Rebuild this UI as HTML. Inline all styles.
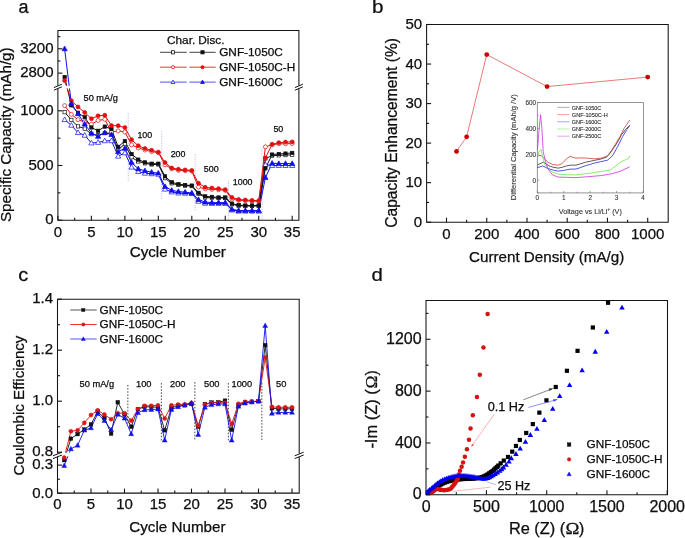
<!DOCTYPE html>
<html><head><meta charset="utf-8"><style>
html,body{margin:0;padding:0;background:#fff;width:685px;height:538px;overflow:hidden}
svg{display:block;font-family:"Liberation Sans",sans-serif;will-change:transform;filter:blur(0.3px)}
text{stroke:currentColor;stroke-width:0.25px}
text.s{stroke:#444;stroke-width:0.12px}
</style></head><body>
<svg width="685" height="538" viewBox="0 0 685 538" font-family="Liberation Sans, sans-serif">
<defs><clipPath id="clipA"><rect x="57.9" y="30.4" width="241" height="189.8"/></clipPath><clipPath id="clipC"><rect x="57.5" y="299" width="241.7" height="194.3"/></clipPath><clipPath id="clipD"><rect x="426.2" y="300.3" width="241.1" height="194"/></clipPath></defs>
<rect width="685" height="538" fill="#fff"/>
<g clip-path="url(#clipA)">
<line x1="128.21" y1="113" x2="128.21" y2="180.7" stroke="#8a8ad0" stroke-width="0.6" stroke-dasharray="1,1.3"/>
<line x1="161.67" y1="131.2" x2="161.67" y2="200" stroke="#8a8ad0" stroke-width="0.6" stroke-dasharray="1,1.3"/>
<line x1="195.14" y1="154.2" x2="195.14" y2="211" stroke="#8a8ad0" stroke-width="0.6" stroke-dasharray="1,1.3"/>
<line x1="228.6" y1="180.7" x2="228.6" y2="220" stroke="#8a8ad0" stroke-width="0.6" stroke-dasharray="1,1.3"/>
<line x1="262.07" y1="148.8" x2="262.07" y2="220" stroke="#8a8ad0" stroke-width="0.6" stroke-dasharray="1,1.3"/>
<polyline points="64.62,112.2 71.32,119.9 78.01,126.39 84.7,128.59 91.39,134.2 98.09,135.3 104.78,133.1 111.47,133.1 118.17,149.6 124.86,144.1 131.55,157.3 138.25,161.48 144.94,163.35 151.63,164.45 158.32,164.45 165.02,178.2 171.71,183.37 178.4,185.02 185.1,185.68 191.79,186.12 198.48,193.82 205.18,197.45 211.87,197.78 218.56,198 225.25,198 231.95,204.38 238.64,205.7 245.33,206.03 252.03,206.03 258.72,206.03 265.41,158.4 272.11,155.65 278.8,155.32 285.49,155.1 292.19,154.88" fill="none" stroke="#111" stroke-width="1.0" stroke-linejoin="round" />
<polyline points="64.62,105.6 71.32,114.4 78.01,119.68 84.7,122.1 91.39,124.3 98.09,120.45 104.78,119.35 111.47,132 118.17,130.9 124.86,132 131.55,144.76 138.25,147.95 144.94,150.04 151.63,151.58 158.32,152.68 165.02,164.78 171.71,168.85 178.4,170.28 185.1,170.72 191.79,171.05 198.48,187 205.18,188.98 211.87,189.42 218.56,189.75 225.25,190.3 231.95,199.1 238.64,200.42 245.33,200.75 252.03,201.08 258.72,201.3 265.41,146.85 272.11,144.76 278.8,143.77 285.49,143.77 292.19,143.55" fill="none" stroke="#e01010" stroke-width="1.0" stroke-linejoin="round" />
<polyline points="64.62,119.68 71.32,125.29 78.01,132.66 84.7,135.3 91.39,143 98.09,142.45 104.78,140.8 111.47,140.8 118.17,156.2 124.86,152.9 131.55,167.2 138.25,171.6 144.94,173.25 151.63,173.8 158.32,174.35 165.02,189.2 171.71,191.95 178.4,193.05 185.1,193.27 191.79,193.6 198.48,201.3 205.18,203.28 211.87,203.5 218.56,203.5 225.25,203.5 231.95,210.1 238.64,211.2 245.33,211.2 252.03,211.2 258.72,211.2 265.41,164.78 272.11,165.55 278.8,165.55 285.49,165.55 292.19,165.55" fill="none" stroke="#1010ee" stroke-width="1.0" stroke-linejoin="round" />
<polyline points="64.62,77.01 71.32,105.38 78.01,112.75 84.7,117.26 91.39,127.49 98.09,130.79 104.78,126.61 111.47,129.03 118.17,146.85 124.86,141.02 131.55,154 138.25,159.61 144.94,162.36 151.63,163.68 158.32,163.68 165.02,176.33 171.71,182.27 178.4,184.14 185.1,185.02 191.79,185.57 198.48,192.83 205.18,196.35 211.87,196.9 218.56,197.45 225.25,197.45 231.95,203.61 238.64,205.04 245.33,205.48 252.03,205.48 258.72,205.48 265.41,168.3 272.11,154.55 278.8,154 285.49,153.56 292.19,152.9" fill="none" stroke="#111" stroke-width="1.0" stroke-linejoin="round" />
<polyline points="64.62,80.6 71.32,100.65 78.01,106.92 84.7,112.42 91.39,118.69 98.09,115.83 104.78,115.28 111.47,125.62 118.17,125.73 124.86,127.6 131.55,139.7 138.25,145.75 144.94,148.5 151.63,150.26 158.32,152.13 165.02,162.58 171.71,167.97 178.4,169.29 185.1,169.95 191.79,170.5 198.48,183.26 205.18,187.33 211.87,188.1 218.56,188.65 225.25,189.64 231.95,197.45 238.64,199.54 245.33,199.98 252.03,200.42 258.72,200.64 265.41,157.96 272.11,144.32 278.8,142.67 285.49,142.12 292.19,141.9" fill="none" stroke="#e01010" stroke-width="1.0" stroke-linejoin="round" />
<polyline points="64.62,48.8 71.32,103.4 78.01,113.85 84.7,124.08 91.39,133.1 98.09,136.4 104.78,132.66 111.47,134.64 118.17,151.69 124.86,148.39 131.55,162.36 138.25,168.85 144.94,170.83 151.63,172.26 158.32,173.14 165.02,186.56 171.71,190.3 178.4,191.62 185.1,192.17 191.79,193.05 198.48,199.54 205.18,202.07 211.87,202.62 218.56,202.62 225.25,202.62 231.95,209.22 238.64,210.54 245.33,210.54 252.03,210.54 258.72,210.54 265.41,177.54 272.11,163.24 278.8,163.57 285.49,163.57 292.19,163.57" fill="none" stroke="#1010ee" stroke-width="1.0" stroke-linejoin="round" />
<rect x="62.97" y="110.55" width="3.3" height="3.3" fill="#fff" stroke="#111" stroke-width="0.7"/>
<rect x="69.67" y="118.25" width="3.3" height="3.3" fill="#fff" stroke="#111" stroke-width="0.7"/>
<rect x="76.36" y="124.74" width="3.3" height="3.3" fill="#fff" stroke="#111" stroke-width="0.7"/>
<rect x="83.05" y="126.94" width="3.3" height="3.3" fill="#fff" stroke="#111" stroke-width="0.7"/>
<rect x="89.74" y="132.55" width="3.3" height="3.3" fill="#fff" stroke="#111" stroke-width="0.7"/>
<rect x="96.44" y="133.65" width="3.3" height="3.3" fill="#fff" stroke="#111" stroke-width="0.7"/>
<rect x="103.13" y="131.45" width="3.3" height="3.3" fill="#fff" stroke="#111" stroke-width="0.7"/>
<rect x="109.82" y="131.45" width="3.3" height="3.3" fill="#fff" stroke="#111" stroke-width="0.7"/>
<rect x="116.52" y="147.95" width="3.3" height="3.3" fill="#fff" stroke="#111" stroke-width="0.7"/>
<rect x="123.21" y="142.45" width="3.3" height="3.3" fill="#fff" stroke="#111" stroke-width="0.7"/>
<rect x="129.9" y="155.65" width="3.3" height="3.3" fill="#fff" stroke="#111" stroke-width="0.7"/>
<rect x="136.6" y="159.83" width="3.3" height="3.3" fill="#fff" stroke="#111" stroke-width="0.7"/>
<rect x="143.29" y="161.7" width="3.3" height="3.3" fill="#fff" stroke="#111" stroke-width="0.7"/>
<rect x="149.98" y="162.8" width="3.3" height="3.3" fill="#fff" stroke="#111" stroke-width="0.7"/>
<rect x="156.67" y="162.8" width="3.3" height="3.3" fill="#fff" stroke="#111" stroke-width="0.7"/>
<rect x="163.37" y="176.55" width="3.3" height="3.3" fill="#fff" stroke="#111" stroke-width="0.7"/>
<rect x="170.06" y="181.72" width="3.3" height="3.3" fill="#fff" stroke="#111" stroke-width="0.7"/>
<rect x="176.75" y="183.37" width="3.3" height="3.3" fill="#fff" stroke="#111" stroke-width="0.7"/>
<rect x="183.45" y="184.03" width="3.3" height="3.3" fill="#fff" stroke="#111" stroke-width="0.7"/>
<rect x="190.14" y="184.47" width="3.3" height="3.3" fill="#fff" stroke="#111" stroke-width="0.7"/>
<rect x="196.83" y="192.17" width="3.3" height="3.3" fill="#fff" stroke="#111" stroke-width="0.7"/>
<rect x="203.53" y="195.8" width="3.3" height="3.3" fill="#fff" stroke="#111" stroke-width="0.7"/>
<rect x="210.22" y="196.13" width="3.3" height="3.3" fill="#fff" stroke="#111" stroke-width="0.7"/>
<rect x="216.91" y="196.35" width="3.3" height="3.3" fill="#fff" stroke="#111" stroke-width="0.7"/>
<rect x="223.6" y="196.35" width="3.3" height="3.3" fill="#fff" stroke="#111" stroke-width="0.7"/>
<rect x="230.3" y="202.73" width="3.3" height="3.3" fill="#fff" stroke="#111" stroke-width="0.7"/>
<rect x="236.99" y="204.05" width="3.3" height="3.3" fill="#fff" stroke="#111" stroke-width="0.7"/>
<rect x="243.68" y="204.38" width="3.3" height="3.3" fill="#fff" stroke="#111" stroke-width="0.7"/>
<rect x="250.38" y="204.38" width="3.3" height="3.3" fill="#fff" stroke="#111" stroke-width="0.7"/>
<rect x="257.07" y="204.38" width="3.3" height="3.3" fill="#fff" stroke="#111" stroke-width="0.7"/>
<rect x="263.76" y="156.75" width="3.3" height="3.3" fill="#fff" stroke="#111" stroke-width="0.7"/>
<rect x="270.46" y="154" width="3.3" height="3.3" fill="#fff" stroke="#111" stroke-width="0.7"/>
<rect x="277.15" y="153.67" width="3.3" height="3.3" fill="#fff" stroke="#111" stroke-width="0.7"/>
<rect x="283.84" y="153.45" width="3.3" height="3.3" fill="#fff" stroke="#111" stroke-width="0.7"/>
<rect x="290.54" y="153.23" width="3.3" height="3.3" fill="#fff" stroke="#111" stroke-width="0.7"/>
<circle cx="64.62" cy="105.6" r="2" fill="#fff" stroke="#e01010" stroke-width="0.7"/>
<circle cx="71.32" cy="114.4" r="2" fill="#fff" stroke="#e01010" stroke-width="0.7"/>
<circle cx="78.01" cy="119.68" r="2" fill="#fff" stroke="#e01010" stroke-width="0.7"/>
<circle cx="84.7" cy="122.1" r="2" fill="#fff" stroke="#e01010" stroke-width="0.7"/>
<circle cx="91.39" cy="124.3" r="2" fill="#fff" stroke="#e01010" stroke-width="0.7"/>
<circle cx="98.09" cy="120.45" r="2" fill="#fff" stroke="#e01010" stroke-width="0.7"/>
<circle cx="104.78" cy="119.35" r="2" fill="#fff" stroke="#e01010" stroke-width="0.7"/>
<circle cx="111.47" cy="132" r="2" fill="#fff" stroke="#e01010" stroke-width="0.7"/>
<circle cx="118.17" cy="130.9" r="2" fill="#fff" stroke="#e01010" stroke-width="0.7"/>
<circle cx="124.86" cy="132" r="2" fill="#fff" stroke="#e01010" stroke-width="0.7"/>
<circle cx="131.55" cy="144.76" r="2" fill="#fff" stroke="#e01010" stroke-width="0.7"/>
<circle cx="138.25" cy="147.95" r="2" fill="#fff" stroke="#e01010" stroke-width="0.7"/>
<circle cx="144.94" cy="150.04" r="2" fill="#fff" stroke="#e01010" stroke-width="0.7"/>
<circle cx="151.63" cy="151.58" r="2" fill="#fff" stroke="#e01010" stroke-width="0.7"/>
<circle cx="158.32" cy="152.68" r="2" fill="#fff" stroke="#e01010" stroke-width="0.7"/>
<circle cx="165.02" cy="164.78" r="2" fill="#fff" stroke="#e01010" stroke-width="0.7"/>
<circle cx="171.71" cy="168.85" r="2" fill="#fff" stroke="#e01010" stroke-width="0.7"/>
<circle cx="178.4" cy="170.28" r="2" fill="#fff" stroke="#e01010" stroke-width="0.7"/>
<circle cx="185.1" cy="170.72" r="2" fill="#fff" stroke="#e01010" stroke-width="0.7"/>
<circle cx="191.79" cy="171.05" r="2" fill="#fff" stroke="#e01010" stroke-width="0.7"/>
<circle cx="198.48" cy="187" r="2" fill="#fff" stroke="#e01010" stroke-width="0.7"/>
<circle cx="205.18" cy="188.98" r="2" fill="#fff" stroke="#e01010" stroke-width="0.7"/>
<circle cx="211.87" cy="189.42" r="2" fill="#fff" stroke="#e01010" stroke-width="0.7"/>
<circle cx="218.56" cy="189.75" r="2" fill="#fff" stroke="#e01010" stroke-width="0.7"/>
<circle cx="225.25" cy="190.3" r="2" fill="#fff" stroke="#e01010" stroke-width="0.7"/>
<circle cx="231.95" cy="199.1" r="2" fill="#fff" stroke="#e01010" stroke-width="0.7"/>
<circle cx="238.64" cy="200.42" r="2" fill="#fff" stroke="#e01010" stroke-width="0.7"/>
<circle cx="245.33" cy="200.75" r="2" fill="#fff" stroke="#e01010" stroke-width="0.7"/>
<circle cx="252.03" cy="201.08" r="2" fill="#fff" stroke="#e01010" stroke-width="0.7"/>
<circle cx="258.72" cy="201.3" r="2" fill="#fff" stroke="#e01010" stroke-width="0.7"/>
<circle cx="265.41" cy="146.85" r="2" fill="#fff" stroke="#e01010" stroke-width="0.7"/>
<circle cx="272.11" cy="144.76" r="2" fill="#fff" stroke="#e01010" stroke-width="0.7"/>
<circle cx="278.8" cy="143.77" r="2" fill="#fff" stroke="#e01010" stroke-width="0.7"/>
<circle cx="285.49" cy="143.77" r="2" fill="#fff" stroke="#e01010" stroke-width="0.7"/>
<circle cx="292.19" cy="143.55" r="2" fill="#fff" stroke="#e01010" stroke-width="0.7"/>
<polygon points="64.62,116.93 67.24,121.6 62.01,121.6" fill="#fff" stroke="#1010ee" stroke-width="0.7"/>
<polygon points="71.32,122.54 73.93,127.22 68.7,127.22" fill="#fff" stroke="#1010ee" stroke-width="0.7"/>
<polygon points="78.01,129.91 80.62,134.59 75.4,134.59" fill="#fff" stroke="#1010ee" stroke-width="0.7"/>
<polygon points="84.7,132.55 87.31,137.23 82.09,137.23" fill="#fff" stroke="#1010ee" stroke-width="0.7"/>
<polygon points="91.39,140.25 94.01,144.93 88.78,144.93" fill="#fff" stroke="#1010ee" stroke-width="0.7"/>
<polygon points="98.09,139.7 100.7,144.38 95.48,144.38" fill="#fff" stroke="#1010ee" stroke-width="0.7"/>
<polygon points="104.78,138.05 107.39,142.73 102.17,142.73" fill="#fff" stroke="#1010ee" stroke-width="0.7"/>
<polygon points="111.47,138.05 114.09,142.73 108.86,142.73" fill="#fff" stroke="#1010ee" stroke-width="0.7"/>
<polygon points="118.17,153.45 120.78,158.12 115.55,158.12" fill="#fff" stroke="#1010ee" stroke-width="0.7"/>
<polygon points="124.86,150.15 127.47,154.83 122.25,154.83" fill="#fff" stroke="#1010ee" stroke-width="0.7"/>
<polygon points="131.55,164.45 134.17,169.12 128.94,169.12" fill="#fff" stroke="#1010ee" stroke-width="0.7"/>
<polygon points="138.25,168.85 140.86,173.53 135.63,173.53" fill="#fff" stroke="#1010ee" stroke-width="0.7"/>
<polygon points="144.94,170.5 147.55,175.18 142.33,175.18" fill="#fff" stroke="#1010ee" stroke-width="0.7"/>
<polygon points="151.63,171.05 154.24,175.73 149.02,175.73" fill="#fff" stroke="#1010ee" stroke-width="0.7"/>
<polygon points="158.32,171.6 160.94,176.28 155.71,176.28" fill="#fff" stroke="#1010ee" stroke-width="0.7"/>
<polygon points="165.02,186.45 167.63,191.12 162.41,191.12" fill="#fff" stroke="#1010ee" stroke-width="0.7"/>
<polygon points="171.71,189.2 174.32,193.88 169.1,193.88" fill="#fff" stroke="#1010ee" stroke-width="0.7"/>
<polygon points="178.4,190.3 181.02,194.98 175.79,194.98" fill="#fff" stroke="#1010ee" stroke-width="0.7"/>
<polygon points="185.1,190.52 187.71,195.2 182.48,195.2" fill="#fff" stroke="#1010ee" stroke-width="0.7"/>
<polygon points="191.79,190.85 194.4,195.53 189.18,195.53" fill="#fff" stroke="#1010ee" stroke-width="0.7"/>
<polygon points="198.48,198.55 201.1,203.23 195.87,203.23" fill="#fff" stroke="#1010ee" stroke-width="0.7"/>
<polygon points="205.18,200.53 207.79,205.21 202.56,205.21" fill="#fff" stroke="#1010ee" stroke-width="0.7"/>
<polygon points="211.87,200.75 214.48,205.43 209.26,205.43" fill="#fff" stroke="#1010ee" stroke-width="0.7"/>
<polygon points="218.56,200.75 221.17,205.43 215.95,205.43" fill="#fff" stroke="#1010ee" stroke-width="0.7"/>
<polygon points="225.25,200.75 227.87,205.43 222.64,205.43" fill="#fff" stroke="#1010ee" stroke-width="0.7"/>
<polygon points="231.95,207.35 234.56,212.03 229.34,212.03" fill="#fff" stroke="#1010ee" stroke-width="0.7"/>
<polygon points="238.64,208.45 241.25,213.12 236.03,213.12" fill="#fff" stroke="#1010ee" stroke-width="0.7"/>
<polygon points="245.33,208.45 247.95,213.12 242.72,213.12" fill="#fff" stroke="#1010ee" stroke-width="0.7"/>
<polygon points="252.03,208.45 254.64,213.12 249.41,213.12" fill="#fff" stroke="#1010ee" stroke-width="0.7"/>
<polygon points="258.72,208.45 261.33,213.12 256.11,213.12" fill="#fff" stroke="#1010ee" stroke-width="0.7"/>
<polygon points="265.41,162.03 268.03,166.71 262.8,166.71" fill="#fff" stroke="#1010ee" stroke-width="0.7"/>
<polygon points="272.11,162.8 274.72,167.48 269.49,167.48" fill="#fff" stroke="#1010ee" stroke-width="0.7"/>
<polygon points="278.8,162.8 281.41,167.48 276.19,167.48" fill="#fff" stroke="#1010ee" stroke-width="0.7"/>
<polygon points="285.49,162.8 288.1,167.48 282.88,167.48" fill="#fff" stroke="#1010ee" stroke-width="0.7"/>
<polygon points="292.19,162.8 294.8,167.48 289.57,167.48" fill="#fff" stroke="#1010ee" stroke-width="0.7"/>
<rect x="62.97" y="75.36" width="3.3" height="3.3" fill="#111" stroke="#111" stroke-width="0.7"/>
<rect x="69.67" y="103.73" width="3.3" height="3.3" fill="#111" stroke="#111" stroke-width="0.7"/>
<rect x="76.36" y="111.1" width="3.3" height="3.3" fill="#111" stroke="#111" stroke-width="0.7"/>
<rect x="83.05" y="115.61" width="3.3" height="3.3" fill="#111" stroke="#111" stroke-width="0.7"/>
<rect x="89.74" y="125.84" width="3.3" height="3.3" fill="#111" stroke="#111" stroke-width="0.7"/>
<rect x="96.44" y="129.14" width="3.3" height="3.3" fill="#111" stroke="#111" stroke-width="0.7"/>
<rect x="103.13" y="124.96" width="3.3" height="3.3" fill="#111" stroke="#111" stroke-width="0.7"/>
<rect x="109.82" y="127.38" width="3.3" height="3.3" fill="#111" stroke="#111" stroke-width="0.7"/>
<rect x="116.52" y="145.2" width="3.3" height="3.3" fill="#111" stroke="#111" stroke-width="0.7"/>
<rect x="123.21" y="139.37" width="3.3" height="3.3" fill="#111" stroke="#111" stroke-width="0.7"/>
<rect x="129.9" y="152.35" width="3.3" height="3.3" fill="#111" stroke="#111" stroke-width="0.7"/>
<rect x="136.6" y="157.96" width="3.3" height="3.3" fill="#111" stroke="#111" stroke-width="0.7"/>
<rect x="143.29" y="160.71" width="3.3" height="3.3" fill="#111" stroke="#111" stroke-width="0.7"/>
<rect x="149.98" y="162.03" width="3.3" height="3.3" fill="#111" stroke="#111" stroke-width="0.7"/>
<rect x="156.67" y="162.03" width="3.3" height="3.3" fill="#111" stroke="#111" stroke-width="0.7"/>
<rect x="163.37" y="174.68" width="3.3" height="3.3" fill="#111" stroke="#111" stroke-width="0.7"/>
<rect x="170.06" y="180.62" width="3.3" height="3.3" fill="#111" stroke="#111" stroke-width="0.7"/>
<rect x="176.75" y="182.49" width="3.3" height="3.3" fill="#111" stroke="#111" stroke-width="0.7"/>
<rect x="183.45" y="183.37" width="3.3" height="3.3" fill="#111" stroke="#111" stroke-width="0.7"/>
<rect x="190.14" y="183.92" width="3.3" height="3.3" fill="#111" stroke="#111" stroke-width="0.7"/>
<rect x="196.83" y="191.18" width="3.3" height="3.3" fill="#111" stroke="#111" stroke-width="0.7"/>
<rect x="203.53" y="194.7" width="3.3" height="3.3" fill="#111" stroke="#111" stroke-width="0.7"/>
<rect x="210.22" y="195.25" width="3.3" height="3.3" fill="#111" stroke="#111" stroke-width="0.7"/>
<rect x="216.91" y="195.8" width="3.3" height="3.3" fill="#111" stroke="#111" stroke-width="0.7"/>
<rect x="223.6" y="195.8" width="3.3" height="3.3" fill="#111" stroke="#111" stroke-width="0.7"/>
<rect x="230.3" y="201.96" width="3.3" height="3.3" fill="#111" stroke="#111" stroke-width="0.7"/>
<rect x="236.99" y="203.39" width="3.3" height="3.3" fill="#111" stroke="#111" stroke-width="0.7"/>
<rect x="243.68" y="203.83" width="3.3" height="3.3" fill="#111" stroke="#111" stroke-width="0.7"/>
<rect x="250.38" y="203.83" width="3.3" height="3.3" fill="#111" stroke="#111" stroke-width="0.7"/>
<rect x="257.07" y="203.83" width="3.3" height="3.3" fill="#111" stroke="#111" stroke-width="0.7"/>
<rect x="263.76" y="166.65" width="3.3" height="3.3" fill="#111" stroke="#111" stroke-width="0.7"/>
<rect x="270.46" y="152.9" width="3.3" height="3.3" fill="#111" stroke="#111" stroke-width="0.7"/>
<rect x="277.15" y="152.35" width="3.3" height="3.3" fill="#111" stroke="#111" stroke-width="0.7"/>
<rect x="283.84" y="151.91" width="3.3" height="3.3" fill="#111" stroke="#111" stroke-width="0.7"/>
<rect x="290.54" y="151.25" width="3.3" height="3.3" fill="#111" stroke="#111" stroke-width="0.7"/>
<circle cx="64.62" cy="80.6" r="2" fill="#e01010" stroke="#e01010" stroke-width="0.7"/>
<circle cx="71.32" cy="100.65" r="2" fill="#e01010" stroke="#e01010" stroke-width="0.7"/>
<circle cx="78.01" cy="106.92" r="2" fill="#e01010" stroke="#e01010" stroke-width="0.7"/>
<circle cx="84.7" cy="112.42" r="2" fill="#e01010" stroke="#e01010" stroke-width="0.7"/>
<circle cx="91.39" cy="118.69" r="2" fill="#e01010" stroke="#e01010" stroke-width="0.7"/>
<circle cx="98.09" cy="115.83" r="2" fill="#e01010" stroke="#e01010" stroke-width="0.7"/>
<circle cx="104.78" cy="115.28" r="2" fill="#e01010" stroke="#e01010" stroke-width="0.7"/>
<circle cx="111.47" cy="125.62" r="2" fill="#e01010" stroke="#e01010" stroke-width="0.7"/>
<circle cx="118.17" cy="125.73" r="2" fill="#e01010" stroke="#e01010" stroke-width="0.7"/>
<circle cx="124.86" cy="127.6" r="2" fill="#e01010" stroke="#e01010" stroke-width="0.7"/>
<circle cx="131.55" cy="139.7" r="2" fill="#e01010" stroke="#e01010" stroke-width="0.7"/>
<circle cx="138.25" cy="145.75" r="2" fill="#e01010" stroke="#e01010" stroke-width="0.7"/>
<circle cx="144.94" cy="148.5" r="2" fill="#e01010" stroke="#e01010" stroke-width="0.7"/>
<circle cx="151.63" cy="150.26" r="2" fill="#e01010" stroke="#e01010" stroke-width="0.7"/>
<circle cx="158.32" cy="152.13" r="2" fill="#e01010" stroke="#e01010" stroke-width="0.7"/>
<circle cx="165.02" cy="162.58" r="2" fill="#e01010" stroke="#e01010" stroke-width="0.7"/>
<circle cx="171.71" cy="167.97" r="2" fill="#e01010" stroke="#e01010" stroke-width="0.7"/>
<circle cx="178.4" cy="169.29" r="2" fill="#e01010" stroke="#e01010" stroke-width="0.7"/>
<circle cx="185.1" cy="169.95" r="2" fill="#e01010" stroke="#e01010" stroke-width="0.7"/>
<circle cx="191.79" cy="170.5" r="2" fill="#e01010" stroke="#e01010" stroke-width="0.7"/>
<circle cx="198.48" cy="183.26" r="2" fill="#e01010" stroke="#e01010" stroke-width="0.7"/>
<circle cx="205.18" cy="187.33" r="2" fill="#e01010" stroke="#e01010" stroke-width="0.7"/>
<circle cx="211.87" cy="188.1" r="2" fill="#e01010" stroke="#e01010" stroke-width="0.7"/>
<circle cx="218.56" cy="188.65" r="2" fill="#e01010" stroke="#e01010" stroke-width="0.7"/>
<circle cx="225.25" cy="189.64" r="2" fill="#e01010" stroke="#e01010" stroke-width="0.7"/>
<circle cx="231.95" cy="197.45" r="2" fill="#e01010" stroke="#e01010" stroke-width="0.7"/>
<circle cx="238.64" cy="199.54" r="2" fill="#e01010" stroke="#e01010" stroke-width="0.7"/>
<circle cx="245.33" cy="199.98" r="2" fill="#e01010" stroke="#e01010" stroke-width="0.7"/>
<circle cx="252.03" cy="200.42" r="2" fill="#e01010" stroke="#e01010" stroke-width="0.7"/>
<circle cx="258.72" cy="200.64" r="2" fill="#e01010" stroke="#e01010" stroke-width="0.7"/>
<circle cx="265.41" cy="157.96" r="2" fill="#e01010" stroke="#e01010" stroke-width="0.7"/>
<circle cx="272.11" cy="144.32" r="2" fill="#e01010" stroke="#e01010" stroke-width="0.7"/>
<circle cx="278.8" cy="142.67" r="2" fill="#e01010" stroke="#e01010" stroke-width="0.7"/>
<circle cx="285.49" cy="142.12" r="2" fill="#e01010" stroke="#e01010" stroke-width="0.7"/>
<circle cx="292.19" cy="141.9" r="2" fill="#e01010" stroke="#e01010" stroke-width="0.7"/>
<polygon points="64.62,46.05 67.24,50.72 62.01,50.72" fill="#1010ee" stroke="#1010ee" stroke-width="0.7"/>
<polygon points="71.32,100.65 73.93,105.33 68.7,105.33" fill="#1010ee" stroke="#1010ee" stroke-width="0.7"/>
<polygon points="78.01,111.1 80.62,115.77 75.4,115.77" fill="#1010ee" stroke="#1010ee" stroke-width="0.7"/>
<polygon points="84.7,121.33 87.31,126 82.09,126" fill="#1010ee" stroke="#1010ee" stroke-width="0.7"/>
<polygon points="91.39,130.35 94.01,135.03 88.78,135.03" fill="#1010ee" stroke="#1010ee" stroke-width="0.7"/>
<polygon points="98.09,133.65 100.7,138.33 95.48,138.33" fill="#1010ee" stroke="#1010ee" stroke-width="0.7"/>
<polygon points="104.78,129.91 107.39,134.59 102.17,134.59" fill="#1010ee" stroke="#1010ee" stroke-width="0.7"/>
<polygon points="111.47,131.89 114.09,136.56 108.86,136.56" fill="#1010ee" stroke="#1010ee" stroke-width="0.7"/>
<polygon points="118.17,148.94 120.78,153.62 115.55,153.62" fill="#1010ee" stroke="#1010ee" stroke-width="0.7"/>
<polygon points="124.86,145.64 127.47,150.31 122.25,150.31" fill="#1010ee" stroke="#1010ee" stroke-width="0.7"/>
<polygon points="131.55,159.61 134.17,164.29 128.94,164.29" fill="#1010ee" stroke="#1010ee" stroke-width="0.7"/>
<polygon points="138.25,166.1 140.86,170.78 135.63,170.78" fill="#1010ee" stroke="#1010ee" stroke-width="0.7"/>
<polygon points="144.94,168.08 147.55,172.75 142.33,172.75" fill="#1010ee" stroke="#1010ee" stroke-width="0.7"/>
<polygon points="151.63,169.51 154.24,174.19 149.02,174.19" fill="#1010ee" stroke="#1010ee" stroke-width="0.7"/>
<polygon points="158.32,170.39 160.94,175.06 155.71,175.06" fill="#1010ee" stroke="#1010ee" stroke-width="0.7"/>
<polygon points="165.02,183.81 167.63,188.49 162.41,188.49" fill="#1010ee" stroke="#1010ee" stroke-width="0.7"/>
<polygon points="171.71,187.55 174.32,192.23 169.1,192.23" fill="#1010ee" stroke="#1010ee" stroke-width="0.7"/>
<polygon points="178.4,188.87 181.02,193.55 175.79,193.55" fill="#1010ee" stroke="#1010ee" stroke-width="0.7"/>
<polygon points="185.1,189.42 187.71,194.09 182.48,194.09" fill="#1010ee" stroke="#1010ee" stroke-width="0.7"/>
<polygon points="191.79,190.3 194.4,194.98 189.18,194.98" fill="#1010ee" stroke="#1010ee" stroke-width="0.7"/>
<polygon points="198.48,196.79 201.1,201.47 195.87,201.47" fill="#1010ee" stroke="#1010ee" stroke-width="0.7"/>
<polygon points="205.18,199.32 207.79,204 202.56,204" fill="#1010ee" stroke="#1010ee" stroke-width="0.7"/>
<polygon points="211.87,199.87 214.48,204.55 209.26,204.55" fill="#1010ee" stroke="#1010ee" stroke-width="0.7"/>
<polygon points="218.56,199.87 221.17,204.55 215.95,204.55" fill="#1010ee" stroke="#1010ee" stroke-width="0.7"/>
<polygon points="225.25,199.87 227.87,204.55 222.64,204.55" fill="#1010ee" stroke="#1010ee" stroke-width="0.7"/>
<polygon points="231.95,206.47 234.56,211.15 229.34,211.15" fill="#1010ee" stroke="#1010ee" stroke-width="0.7"/>
<polygon points="238.64,207.79 241.25,212.47 236.03,212.47" fill="#1010ee" stroke="#1010ee" stroke-width="0.7"/>
<polygon points="245.33,207.79 247.95,212.47 242.72,212.47" fill="#1010ee" stroke="#1010ee" stroke-width="0.7"/>
<polygon points="252.03,207.79 254.64,212.47 249.41,212.47" fill="#1010ee" stroke="#1010ee" stroke-width="0.7"/>
<polygon points="258.72,207.79 261.33,212.47 256.11,212.47" fill="#1010ee" stroke="#1010ee" stroke-width="0.7"/>
<polygon points="265.41,174.79 268.03,179.47 262.8,179.47" fill="#1010ee" stroke="#1010ee" stroke-width="0.7"/>
<polygon points="272.11,160.49 274.72,165.17 269.49,165.17" fill="#1010ee" stroke="#1010ee" stroke-width="0.7"/>
<polygon points="278.8,160.82 281.41,165.5 276.19,165.5" fill="#1010ee" stroke="#1010ee" stroke-width="0.7"/>
<polygon points="285.49,160.82 288.1,165.5 282.88,165.5" fill="#1010ee" stroke="#1010ee" stroke-width="0.7"/>
<polygon points="292.19,160.82 294.8,165.5 289.57,165.5" fill="#1010ee" stroke="#1010ee" stroke-width="0.7"/>
<rect x="57.9" y="85.9" width="241" height="2.5" fill="#fff"/>
</g>
<path d="M57.9,30.4 H298.9 V220.2 H57.9 Z" fill="none" stroke="#141414" stroke-width="1.05"/>
<rect x="54.9" y="85.6" width="6" height="3" fill="#fff"/>
<line x1="53.9" y1="87.6" x2="61.9" y2="84.2" stroke="#141414" stroke-width="1" />
<line x1="53.9" y1="90.2" x2="61.9" y2="86.8" stroke="#141414" stroke-width="1" />
<rect x="295.9" y="85.6" width="6" height="3" fill="#fff"/>
<line x1="294.9" y1="87.6" x2="302.9" y2="84.2" stroke="#141414" stroke-width="1" />
<line x1="294.9" y1="90.2" x2="302.9" y2="86.8" stroke="#141414" stroke-width="1" />
<line x1="57.93" y1="220.2" x2="57.93" y2="215.7" stroke="#141414" stroke-width="1.1" />
<text x="57.93" y="236.8" font-size="15" text-anchor="middle" fill="#111" >0</text>
<line x1="91.39" y1="220.2" x2="91.39" y2="215.7" stroke="#141414" stroke-width="1.1" />
<text x="91.39" y="236.8" font-size="15" text-anchor="middle" fill="#111" >5</text>
<line x1="124.86" y1="220.2" x2="124.86" y2="215.7" stroke="#141414" stroke-width="1.1" />
<text x="124.86" y="236.8" font-size="15" text-anchor="middle" fill="#111" >10</text>
<line x1="158.32" y1="220.2" x2="158.32" y2="215.7" stroke="#141414" stroke-width="1.1" />
<text x="158.32" y="236.8" font-size="15" text-anchor="middle" fill="#111" >15</text>
<line x1="191.79" y1="220.2" x2="191.79" y2="215.7" stroke="#141414" stroke-width="1.1" />
<text x="191.79" y="236.8" font-size="15" text-anchor="middle" fill="#111" >20</text>
<line x1="225.25" y1="220.2" x2="225.25" y2="215.7" stroke="#141414" stroke-width="1.1" />
<text x="225.25" y="236.8" font-size="15" text-anchor="middle" fill="#111" >25</text>
<line x1="258.72" y1="220.2" x2="258.72" y2="215.7" stroke="#141414" stroke-width="1.1" />
<text x="258.72" y="236.8" font-size="15" text-anchor="middle" fill="#111" >30</text>
<line x1="292.19" y1="220.2" x2="292.19" y2="215.7" stroke="#141414" stroke-width="1.1" />
<text x="292.19" y="236.8" font-size="15" text-anchor="middle" fill="#111" >35</text>
<line x1="74.66" y1="220.2" x2="74.66" y2="217.7" stroke="#141414" stroke-width="1.1" />
<line x1="108.13" y1="220.2" x2="108.13" y2="217.7" stroke="#141414" stroke-width="1.1" />
<line x1="141.59" y1="220.2" x2="141.59" y2="217.7" stroke="#141414" stroke-width="1.1" />
<line x1="175.06" y1="220.2" x2="175.06" y2="217.7" stroke="#141414" stroke-width="1.1" />
<line x1="208.52" y1="220.2" x2="208.52" y2="217.7" stroke="#141414" stroke-width="1.1" />
<line x1="241.99" y1="220.2" x2="241.99" y2="217.7" stroke="#141414" stroke-width="1.1" />
<line x1="275.45" y1="220.2" x2="275.45" y2="217.7" stroke="#141414" stroke-width="1.1" />
<line x1="57.9" y1="220.2" x2="62.4" y2="220.2" stroke="#141414" stroke-width="1.1" />
<text x="53.5" y="224.4" font-size="15" text-anchor="end" fill="#111" >0</text>
<line x1="57.9" y1="165.5" x2="62.4" y2="165.5" stroke="#141414" stroke-width="1.1" />
<text x="53.5" y="169.7" font-size="15" text-anchor="end" fill="#111" >500</text>
<line x1="57.9" y1="110.8" x2="62.4" y2="110.8" stroke="#141414" stroke-width="1.1" />
<text x="53.5" y="115" font-size="15" text-anchor="end" fill="#111" >1000</text>
<line x1="57.9" y1="192.85" x2="60.4" y2="192.85" stroke="#141414" stroke-width="1.1" />
<line x1="57.9" y1="138.15" x2="60.4" y2="138.15" stroke="#141414" stroke-width="1.1" />
<line x1="57.9" y1="73.12" x2="62.4" y2="73.12" stroke="#141414" stroke-width="1.1" />
<text x="53.5" y="77.32" font-size="15" text-anchor="end" fill="#111" >2800</text>
<line x1="57.9" y1="48.8" x2="62.4" y2="48.8" stroke="#141414" stroke-width="1.1" />
<text x="53.5" y="53" font-size="15" text-anchor="end" fill="#111" >3200</text>
<line x1="57.9" y1="60.96" x2="60.4" y2="60.96" stroke="#141414" stroke-width="1.1" />
<line x1="57.9" y1="36.64" x2="60.4" y2="36.64" stroke="#141414" stroke-width="1.1" />
<text transform="translate(18.4,13.3)" font-size="18" fill="#111">a</text>
<text x="129.7" y="256.9" font-size="15.2" text-anchor="start" fill="#111" >Cycle Number</text>
<text transform="translate(11,222.1) rotate(-90)" font-size="15.2" fill="#111">Specific Capacity (mAh/g)</text>
<text x="83.6" y="100.7" font-size="9.2" text-anchor="start" fill="#111" >50 mA/g</text>
<text x="137.4" y="138" font-size="8.9" text-anchor="start" fill="#111" >100</text>
<text x="170.7" y="156.6" font-size="8.9" text-anchor="start" fill="#111" >200</text>
<text x="203.8" y="171.8" font-size="8.9" text-anchor="start" fill="#111" >500</text>
<text x="232.8" y="184.9" font-size="8.9" text-anchor="start" fill="#111" >1000</text>
<text x="273.4" y="131.5" font-size="8.9" text-anchor="start" fill="#111" >50</text>
<text x="167" y="43.6" font-size="11.8" text-anchor="start" fill="#111" >Char.</text>
<text x="198.3" y="43.6" font-size="11.8" text-anchor="start" fill="#111" >Disc.</text>
<line x1="160" y1="52.3" x2="186.8" y2="52.3" stroke="#444" stroke-width="1" />
<line x1="189.4" y1="52.3" x2="215.7" y2="52.3" stroke="#444" stroke-width="1" />
<rect x="171.4" y="50.7" width="3.2" height="3.2" fill="#fff" stroke="#111" stroke-width="0.8"/>
<rect x="200.9" y="50.7" width="3.2" height="3.2" fill="#111" stroke="#111" stroke-width="0.8"/>
<text x="219.2" y="55.9" font-size="11.8" text-anchor="start" fill="#111" >GNF-1050C</text>
<line x1="160" y1="67.2" x2="186.8" y2="67.2" stroke="#e33" stroke-width="1" />
<line x1="189.4" y1="67.2" x2="215.7" y2="67.2" stroke="#e33" stroke-width="1" />
<circle cx="173" cy="67.2" r="1.6" fill="#fff" stroke="#e01010" stroke-width="0.8"/>
<circle cx="202.5" cy="67.2" r="1.6" fill="#e01010" stroke="#e01010" stroke-width="0.8"/>
<text x="219.2" y="70.8" font-size="11.8" text-anchor="start" fill="#111" >GNF-1050C-H</text>
<line x1="160" y1="82.1" x2="186.8" y2="82.1" stroke="#55e" stroke-width="1" />
<line x1="189.4" y1="82.1" x2="215.7" y2="82.1" stroke="#55e" stroke-width="1" />
<polygon points="173,80.1 174.9,83.5 171.1,83.5" fill="#fff" stroke="#1010ee" stroke-width="0.8"/>
<polygon points="202.5,80.1 204.4,83.5 200.6,83.5" fill="#1010ee" stroke="#1010ee" stroke-width="0.8"/>
<text x="219.2" y="85.7" font-size="11.8" text-anchor="start" fill="#111" >GNF-1600C</text>
<path d="M426.6,24.5 H668.2 V222.2 H426.6 Z" fill="none" stroke="#141414" stroke-width="1.05"/>
<line x1="446.5" y1="222.2" x2="446.5" y2="217.7" stroke="#141414" stroke-width="1.1" />
<text x="446.5" y="239" font-size="15" text-anchor="middle" fill="#111" >0</text>
<line x1="486.74" y1="222.2" x2="486.74" y2="217.7" stroke="#141414" stroke-width="1.1" />
<text x="486.74" y="239" font-size="15" text-anchor="middle" fill="#111" >200</text>
<line x1="526.98" y1="222.2" x2="526.98" y2="217.7" stroke="#141414" stroke-width="1.1" />
<text x="526.98" y="239" font-size="15" text-anchor="middle" fill="#111" >400</text>
<line x1="567.22" y1="222.2" x2="567.22" y2="217.7" stroke="#141414" stroke-width="1.1" />
<text x="567.22" y="239" font-size="15" text-anchor="middle" fill="#111" >600</text>
<line x1="607.46" y1="222.2" x2="607.46" y2="217.7" stroke="#141414" stroke-width="1.1" />
<text x="607.46" y="239" font-size="15" text-anchor="middle" fill="#111" >800</text>
<line x1="647.7" y1="222.2" x2="647.7" y2="217.7" stroke="#141414" stroke-width="1.1" />
<text x="647.7" y="239" font-size="15" text-anchor="middle" fill="#111" >1000</text>
<line x1="466.62" y1="222.2" x2="466.62" y2="219.7" stroke="#141414" stroke-width="1.1" />
<line x1="506.86" y1="222.2" x2="506.86" y2="219.7" stroke="#141414" stroke-width="1.1" />
<line x1="547.1" y1="222.2" x2="547.1" y2="219.7" stroke="#141414" stroke-width="1.1" />
<line x1="587.34" y1="222.2" x2="587.34" y2="219.7" stroke="#141414" stroke-width="1.1" />
<line x1="627.58" y1="222.2" x2="627.58" y2="219.7" stroke="#141414" stroke-width="1.1" />
<line x1="426.6" y1="222.2" x2="431.1" y2="222.2" stroke="#141414" stroke-width="1.1" />
<text x="422.2" y="226.7" font-size="15" text-anchor="end" fill="#111" >0</text>
<line x1="426.6" y1="182.66" x2="431.1" y2="182.66" stroke="#141414" stroke-width="1.1" />
<text x="422.2" y="187.16" font-size="15" text-anchor="end" fill="#111" >10</text>
<line x1="426.6" y1="143.12" x2="431.1" y2="143.12" stroke="#141414" stroke-width="1.1" />
<text x="422.2" y="147.62" font-size="15" text-anchor="end" fill="#111" >20</text>
<line x1="426.6" y1="103.58" x2="431.1" y2="103.58" stroke="#141414" stroke-width="1.1" />
<text x="422.2" y="108.08" font-size="15" text-anchor="end" fill="#111" >30</text>
<line x1="426.6" y1="64.04" x2="431.1" y2="64.04" stroke="#141414" stroke-width="1.1" />
<text x="422.2" y="68.54" font-size="15" text-anchor="end" fill="#111" >40</text>
<line x1="426.6" y1="24.5" x2="431.1" y2="24.5" stroke="#141414" stroke-width="1.1" />
<text x="422.2" y="29" font-size="15" text-anchor="end" fill="#111" >50</text>
<line x1="426.6" y1="202.43" x2="429.1" y2="202.43" stroke="#141414" stroke-width="1.1" />
<line x1="426.6" y1="162.89" x2="429.1" y2="162.89" stroke="#141414" stroke-width="1.1" />
<line x1="426.6" y1="123.35" x2="429.1" y2="123.35" stroke="#141414" stroke-width="1.1" />
<line x1="426.6" y1="83.81" x2="429.1" y2="83.81" stroke="#141414" stroke-width="1.1" />
<line x1="426.6" y1="44.27" x2="429.1" y2="44.27" stroke="#141414" stroke-width="1.1" />
<polyline points="456.56,151.42 466.62,136.79 486.74,54.55 547.1,86.58 647.7,77.09" fill="none" stroke="#e04040" stroke-width="0.7" stroke-linejoin="round" />
<circle cx="456.56" cy="151.42" r="2.4" fill="#cc0000"/>
<circle cx="466.62" cy="136.79" r="2.4" fill="#cc0000"/>
<circle cx="486.74" cy="54.55" r="2.4" fill="#cc0000"/>
<circle cx="547.1" cy="86.58" r="2.4" fill="#cc0000"/>
<circle cx="647.7" cy="77.09" r="2.4" fill="#cc0000"/>
<text transform="translate(372,13.3) scale(1.15,1)" font-size="18" fill="#111">b</text>
<text x="469" y="262" font-size="15.2" text-anchor="start" fill="#111" >Current Density (mA/g)</text>
<text transform="translate(397.3,227.8) rotate(-90)" font-size="15.6" fill="#111">Capacity Enhancement (%)</text>
<path d="M537.4,102.5 H643.5 V192.9 H537.4 Z" fill="#fff" stroke="#666" stroke-width="0.7"/>
<line x1="537.4" y1="192.9" x2="537.4" y2="190.9" stroke="#666" stroke-width="0.6" />
<text x="537.4" y="200.4" font-size="6.4" text-anchor="middle" fill="#333" class="s">0</text>
<line x1="563.8" y1="192.9" x2="563.8" y2="190.9" stroke="#666" stroke-width="0.6" />
<text x="563.8" y="200.4" font-size="6.4" text-anchor="middle" fill="#333" class="s">1</text>
<line x1="590.2" y1="192.9" x2="590.2" y2="190.9" stroke="#666" stroke-width="0.6" />
<text x="590.2" y="200.4" font-size="6.4" text-anchor="middle" fill="#333" class="s">2</text>
<line x1="616.6" y1="192.9" x2="616.6" y2="190.9" stroke="#666" stroke-width="0.6" />
<text x="616.6" y="200.4" font-size="6.4" text-anchor="middle" fill="#333" class="s">3</text>
<line x1="643" y1="192.9" x2="643" y2="190.9" stroke="#666" stroke-width="0.6" />
<text x="643" y="200.4" font-size="6.4" text-anchor="middle" fill="#333" class="s">4</text>
<line x1="550.6" y1="192.9" x2="550.6" y2="191.7" stroke="#666" stroke-width="0.6" />
<line x1="577" y1="192.9" x2="577" y2="191.7" stroke="#666" stroke-width="0.6" />
<line x1="603.4" y1="192.9" x2="603.4" y2="191.7" stroke="#666" stroke-width="0.6" />
<line x1="629.8" y1="192.9" x2="629.8" y2="191.7" stroke="#666" stroke-width="0.6" />
<line x1="537.4" y1="180.2" x2="539.4" y2="180.2" stroke="#666" stroke-width="0.6" />
<text x="536.1" y="182.5" font-size="6.4" text-anchor="end" fill="#333" class="s">0</text>
<line x1="537.4" y1="154.28" x2="539.4" y2="154.28" stroke="#666" stroke-width="0.6" />
<text x="536.1" y="156.58" font-size="6.4" text-anchor="end" fill="#333" class="s">200</text>
<line x1="537.4" y1="128.36" x2="539.4" y2="128.36" stroke="#666" stroke-width="0.6" />
<text x="536.1" y="130.66" font-size="6.4" text-anchor="end" fill="#333" class="s">400</text>
<line x1="537.4" y1="102.44" x2="539.4" y2="102.44" stroke="#666" stroke-width="0.6" />
<text x="536.1" y="104.74" font-size="6.4" text-anchor="end" fill="#333" class="s">600</text>
<line x1="537.4" y1="193.16" x2="538.6" y2="193.16" stroke="#666" stroke-width="0.6" />
<line x1="537.4" y1="167.24" x2="538.6" y2="167.24" stroke="#666" stroke-width="0.6" />
<line x1="537.4" y1="141.32" x2="538.6" y2="141.32" stroke="#666" stroke-width="0.6" />
<line x1="537.4" y1="115.4" x2="538.6" y2="115.4" stroke="#666" stroke-width="0.6" />
<text class="s" x="558.8" y="213.6" font-size="7" fill="#333" textLength="63" lengthAdjust="spacingAndGlyphs">Voltage vs Li/Li<tspan font-size="4.5" dy="-3">+</tspan><tspan dy="3"> (V)</tspan></text>
<text class="s" transform="translate(515.8,200.2) rotate(-90)" font-size="6.3" fill="#333" textLength="106" lengthAdjust="spacingAndGlyphs">Differential Capacity (mAh/g /V)</text>
<polyline points="537.4,164.91 540.04,163.61 543.47,162.19 546.64,164.39 549.28,165.94 553.24,167.24 558.26,168.15 562.48,167.24 566.44,165.94 570.14,165.17 575.94,165.17 579.64,164.13 585.18,162.32 590.2,161.28 594.95,160.24 600.76,159.08 606.04,157.39 608.68,154.93 611.06,151.82 615.81,144.95 618.71,140.02 621.35,135.1 625.58,129.53 629.8,125.25" fill="none" stroke="#333" stroke-width="0.8" stroke-linejoin="round" />
<polyline points="537.4,156.35 538.98,155.58 541.1,155.58 544.26,158.56 547.96,162.19 552.45,164.52 558.26,165.17 561.16,164 563.54,162.19 566.44,158.82 570.14,156.35 573.04,157.39 575.94,158.17 579.64,157.91 585.18,158.04 590.2,158.43 594.95,158.82 598.12,158.43 601.82,158.04 607.36,155.96 611.58,150.39 615.81,143.52 620.03,136.52 624.26,128.1 629.8,120.07" fill="none" stroke="#c84030" stroke-width="0.8" stroke-linejoin="round" />
<polyline points="537.4,167.5 540.04,166.85 542.68,165.94 545.32,167.24 549.28,168.92 553.24,170.09 558.26,171.13 563.8,170.35 570.14,169.18 575.94,169.05 579.64,167.89 585.18,165.81 590.2,164.39 594.95,162.96 600.76,161.67 607.36,160.24 612.38,155.96 617.13,147.67 622.67,136.52 626.9,129.53 629.8,125.25" fill="none" stroke="#2828d8" stroke-width="0.8" stroke-linejoin="round" />
<polyline points="537.4,155.58 539.25,151.04 541.1,149.61 542.68,156.87 544.79,164.52 547.96,169.18 552.45,171.91 558.26,174.11 566.44,174.76 575.94,174.89 588.09,173.46 601.82,171.39 610.26,169.96 615.81,165.81 621.35,161.54 626.37,159.46 628.48,158.82 629.8,155.96" fill="none" stroke="#70e050" stroke-width="0.8" stroke-linejoin="round" />
<polyline points="537.4,149.61 538.72,133.54 540.57,114.75 541.89,128.36 543.21,151.69 545.32,160.76 547.96,168.92 552.45,174.89 558.26,177.09 566.44,177.35 575.94,177.61 588.09,176.7 601.82,175.53 612.9,173.46 620.03,171.39 629.8,166.85" fill="none" stroke="#cc30e0" stroke-width="0.8" stroke-linejoin="round" />
<line x1="557.3" y1="107.4" x2="569.5" y2="107.4" stroke="#999" stroke-width="0.8" />
<text class="s" x="571.8" y="109.5" font-size="5.6" fill="#222" textLength="29.5" lengthAdjust="spacingAndGlyphs">GNF-1050C</text>
<line x1="557.3" y1="114.6" x2="569.5" y2="114.6" stroke="#f08878" stroke-width="0.8" />
<text class="s" x="571.8" y="116.7" font-size="5.6" fill="#222" textLength="36" lengthAdjust="spacingAndGlyphs">GNF-1050C-H</text>
<line x1="557.3" y1="121.8" x2="569.5" y2="121.8" stroke="#9090e0" stroke-width="0.8" />
<text class="s" x="571.8" y="123.9" font-size="5.6" fill="#222" textLength="29.5" lengthAdjust="spacingAndGlyphs">GNF-1600C</text>
<line x1="557.3" y1="129" x2="569.5" y2="129" stroke="#a0f090" stroke-width="0.8" />
<text class="s" x="571.8" y="131.1" font-size="5.6" fill="#222" textLength="29.5" lengthAdjust="spacingAndGlyphs">GNF-2000C</text>
<line x1="557.3" y1="136.2" x2="569.5" y2="136.2" stroke="#d890f0" stroke-width="0.8" />
<text class="s" x="571.8" y="138.3" font-size="5.6" fill="#222" textLength="29.5" lengthAdjust="spacingAndGlyphs">GNF-2500C</text>
<g clip-path="url(#clipC)">
<line x1="127.85" y1="385" x2="127.85" y2="424" stroke="#111" stroke-width="0.75" stroke-dasharray="1.6,1.5"/>
<line x1="161.35" y1="383" x2="161.35" y2="440.6" stroke="#111" stroke-width="0.75" stroke-dasharray="1.6,1.5"/>
<line x1="194.85" y1="382" x2="194.85" y2="440.6" stroke="#111" stroke-width="0.75" stroke-dasharray="1.6,1.5"/>
<line x1="228.35" y1="383" x2="228.35" y2="440.6" stroke="#111" stroke-width="0.75" stroke-dasharray="1.6,1.5"/>
<line x1="261.85" y1="382.8" x2="261.85" y2="440" stroke="#111" stroke-width="0.75" stroke-dasharray="1.6,1.5"/>
<polyline points="64.2,460.12 70.9,438.69 77.6,434.09 84.3,429.5 91,424.4 97.7,411.65 104.4,418.03 111.1,433.58 117.8,402.22 124.5,414.46 131.2,426.7 137.9,409.11 144.6,406.81 151.3,406.81 158,407.32 164.7,430.27 171.4,407.83 178.1,405.28 184.8,405.28 191.5,404 198.2,426.7 204.9,404 211.6,402.47 218.3,402.22 225,400.69 231.7,429.76 238.4,405.02 245.1,402.47 251.8,401.71 258.5,401.2 265.2,345.1 271.9,408.34 278.6,408.85 285.3,408.85 292,408.85" fill="none" stroke="#111" stroke-width="0.9" stroke-linejoin="round" />
<polyline points="64.2,457.67 70.9,431.29 77.6,430.27 84.3,422.88 91,414.97 97.7,410.38 104.4,414.46 111.1,419.3 117.8,413.19 124.5,413.19 131.2,420.58 137.9,409.11 144.6,405.79 151.3,405.79 158,405.28 164.7,418.54 171.4,405.28 178.1,404.51 184.8,404.26 191.5,402.99 198.2,425.68 204.9,404.51 211.6,402.99 218.3,402.73 225,402.73 231.7,423.89 238.4,403.75 245.1,401.71 251.8,401.71 258.5,400.94 265.2,357.34 271.9,406.81 278.6,407.32 285.3,407.32 292,407.32" fill="none" stroke="#e01010" stroke-width="0.9" stroke-linejoin="round" />
<polyline points="64.2,465.66 70.9,448.88 77.6,445.31 84.3,430.27 91,427.97 97.7,413.69 104.4,420.58 111.1,429.76 117.8,414.46 124.5,418.28 131.2,433.84 137.9,412.68 144.6,409.87 151.3,409.62 158,409.11 164.7,440.21 171.4,409.62 178.1,406.81 184.8,405.02 191.5,402.99 198.2,434.61 204.9,407.32 211.6,404.77 218.3,404 225,404 231.7,440.21 238.4,406.3 245.1,403.24 251.8,402.22 258.5,401.2 265.2,325.72 271.9,413.44 278.6,412.42 285.3,412.42 292,412.42" fill="none" stroke="#1010ee" stroke-width="0.9" stroke-linejoin="round" />
<rect x="57.5" y="452.6" width="241.7" height="3.6" fill="#fff"/>
<rect x="62.35" y="458.27" width="3.7" height="3.7" fill="#111" stroke="#111" stroke-width="0.4"/>
<rect x="69.05" y="436.83" width="3.7" height="3.7" fill="#111" stroke="#111" stroke-width="0.4"/>
<rect x="75.75" y="432.24" width="3.7" height="3.7" fill="#111" stroke="#111" stroke-width="0.4"/>
<rect x="82.45" y="427.65" width="3.7" height="3.7" fill="#111" stroke="#111" stroke-width="0.4"/>
<rect x="89.15" y="422.55" width="3.7" height="3.7" fill="#111" stroke="#111" stroke-width="0.4"/>
<rect x="95.85" y="409.8" width="3.7" height="3.7" fill="#111" stroke="#111" stroke-width="0.4"/>
<rect x="102.55" y="416.18" width="3.7" height="3.7" fill="#111" stroke="#111" stroke-width="0.4"/>
<rect x="109.25" y="431.73" width="3.7" height="3.7" fill="#111" stroke="#111" stroke-width="0.4"/>
<rect x="115.95" y="400.37" width="3.7" height="3.7" fill="#111" stroke="#111" stroke-width="0.4"/>
<rect x="122.65" y="412.61" width="3.7" height="3.7" fill="#111" stroke="#111" stroke-width="0.4"/>
<rect x="129.35" y="424.85" width="3.7" height="3.7" fill="#111" stroke="#111" stroke-width="0.4"/>
<rect x="136.05" y="407.25" width="3.7" height="3.7" fill="#111" stroke="#111" stroke-width="0.4"/>
<rect x="142.75" y="404.96" width="3.7" height="3.7" fill="#111" stroke="#111" stroke-width="0.4"/>
<rect x="149.45" y="404.96" width="3.7" height="3.7" fill="#111" stroke="#111" stroke-width="0.4"/>
<rect x="156.15" y="405.47" width="3.7" height="3.7" fill="#111" stroke="#111" stroke-width="0.4"/>
<rect x="162.85" y="428.42" width="3.7" height="3.7" fill="#111" stroke="#111" stroke-width="0.4"/>
<rect x="169.55" y="405.98" width="3.7" height="3.7" fill="#111" stroke="#111" stroke-width="0.4"/>
<rect x="176.25" y="403.43" width="3.7" height="3.7" fill="#111" stroke="#111" stroke-width="0.4"/>
<rect x="182.95" y="403.43" width="3.7" height="3.7" fill="#111" stroke="#111" stroke-width="0.4"/>
<rect x="189.65" y="402.15" width="3.7" height="3.7" fill="#111" stroke="#111" stroke-width="0.4"/>
<rect x="196.35" y="424.85" width="3.7" height="3.7" fill="#111" stroke="#111" stroke-width="0.4"/>
<rect x="203.05" y="402.15" width="3.7" height="3.7" fill="#111" stroke="#111" stroke-width="0.4"/>
<rect x="209.75" y="400.62" width="3.7" height="3.7" fill="#111" stroke="#111" stroke-width="0.4"/>
<rect x="216.45" y="400.37" width="3.7" height="3.7" fill="#111" stroke="#111" stroke-width="0.4"/>
<rect x="223.15" y="398.84" width="3.7" height="3.7" fill="#111" stroke="#111" stroke-width="0.4"/>
<rect x="229.85" y="427.91" width="3.7" height="3.7" fill="#111" stroke="#111" stroke-width="0.4"/>
<rect x="236.55" y="403.17" width="3.7" height="3.7" fill="#111" stroke="#111" stroke-width="0.4"/>
<rect x="243.25" y="400.62" width="3.7" height="3.7" fill="#111" stroke="#111" stroke-width="0.4"/>
<rect x="249.95" y="399.86" width="3.7" height="3.7" fill="#111" stroke="#111" stroke-width="0.4"/>
<rect x="256.65" y="399.35" width="3.7" height="3.7" fill="#111" stroke="#111" stroke-width="0.4"/>
<rect x="263.35" y="343.25" width="3.7" height="3.7" fill="#111" stroke="#111" stroke-width="0.4"/>
<rect x="270.05" y="406.49" width="3.7" height="3.7" fill="#111" stroke="#111" stroke-width="0.4"/>
<rect x="276.75" y="407" width="3.7" height="3.7" fill="#111" stroke="#111" stroke-width="0.4"/>
<rect x="283.45" y="407" width="3.7" height="3.7" fill="#111" stroke="#111" stroke-width="0.4"/>
<rect x="290.15" y="407" width="3.7" height="3.7" fill="#111" stroke="#111" stroke-width="0.4"/>
<circle cx="64.2" cy="457.67" r="2.05" fill="#d81818" stroke="#d81818" stroke-width="0.4"/>
<circle cx="70.9" cy="431.29" r="2.05" fill="#d81818" stroke="#d81818" stroke-width="0.4"/>
<circle cx="77.6" cy="430.27" r="2.05" fill="#d81818" stroke="#d81818" stroke-width="0.4"/>
<circle cx="84.3" cy="422.88" r="2.05" fill="#d81818" stroke="#d81818" stroke-width="0.4"/>
<circle cx="91" cy="414.97" r="2.05" fill="#d81818" stroke="#d81818" stroke-width="0.4"/>
<circle cx="97.7" cy="410.38" r="2.05" fill="#d81818" stroke="#d81818" stroke-width="0.4"/>
<circle cx="104.4" cy="414.46" r="2.05" fill="#d81818" stroke="#d81818" stroke-width="0.4"/>
<circle cx="111.1" cy="419.3" r="2.05" fill="#d81818" stroke="#d81818" stroke-width="0.4"/>
<circle cx="117.8" cy="413.19" r="2.05" fill="#d81818" stroke="#d81818" stroke-width="0.4"/>
<circle cx="124.5" cy="413.19" r="2.05" fill="#d81818" stroke="#d81818" stroke-width="0.4"/>
<circle cx="131.2" cy="420.58" r="2.05" fill="#d81818" stroke="#d81818" stroke-width="0.4"/>
<circle cx="137.9" cy="409.11" r="2.05" fill="#d81818" stroke="#d81818" stroke-width="0.4"/>
<circle cx="144.6" cy="405.79" r="2.05" fill="#d81818" stroke="#d81818" stroke-width="0.4"/>
<circle cx="151.3" cy="405.79" r="2.05" fill="#d81818" stroke="#d81818" stroke-width="0.4"/>
<circle cx="158" cy="405.28" r="2.05" fill="#d81818" stroke="#d81818" stroke-width="0.4"/>
<circle cx="164.7" cy="418.54" r="2.05" fill="#d81818" stroke="#d81818" stroke-width="0.4"/>
<circle cx="171.4" cy="405.28" r="2.05" fill="#d81818" stroke="#d81818" stroke-width="0.4"/>
<circle cx="178.1" cy="404.51" r="2.05" fill="#d81818" stroke="#d81818" stroke-width="0.4"/>
<circle cx="184.8" cy="404.26" r="2.05" fill="#d81818" stroke="#d81818" stroke-width="0.4"/>
<circle cx="191.5" cy="402.99" r="2.05" fill="#d81818" stroke="#d81818" stroke-width="0.4"/>
<circle cx="198.2" cy="425.68" r="2.05" fill="#d81818" stroke="#d81818" stroke-width="0.4"/>
<circle cx="204.9" cy="404.51" r="2.05" fill="#d81818" stroke="#d81818" stroke-width="0.4"/>
<circle cx="211.6" cy="402.99" r="2.05" fill="#d81818" stroke="#d81818" stroke-width="0.4"/>
<circle cx="218.3" cy="402.73" r="2.05" fill="#d81818" stroke="#d81818" stroke-width="0.4"/>
<circle cx="225" cy="402.73" r="2.05" fill="#d81818" stroke="#d81818" stroke-width="0.4"/>
<circle cx="231.7" cy="423.89" r="2.05" fill="#d81818" stroke="#d81818" stroke-width="0.4"/>
<circle cx="238.4" cy="403.75" r="2.05" fill="#d81818" stroke="#d81818" stroke-width="0.4"/>
<circle cx="245.1" cy="401.71" r="2.05" fill="#d81818" stroke="#d81818" stroke-width="0.4"/>
<circle cx="251.8" cy="401.71" r="2.05" fill="#d81818" stroke="#d81818" stroke-width="0.4"/>
<circle cx="258.5" cy="400.94" r="2.05" fill="#d81818" stroke="#d81818" stroke-width="0.4"/>
<circle cx="265.2" cy="357.34" r="2.05" fill="#d81818" stroke="#d81818" stroke-width="0.4"/>
<circle cx="271.9" cy="406.81" r="2.05" fill="#d81818" stroke="#d81818" stroke-width="0.4"/>
<circle cx="278.6" cy="407.32" r="2.05" fill="#d81818" stroke="#d81818" stroke-width="0.4"/>
<circle cx="285.3" cy="407.32" r="2.05" fill="#d81818" stroke="#d81818" stroke-width="0.4"/>
<circle cx="292" cy="407.32" r="2.05" fill="#d81818" stroke="#d81818" stroke-width="0.4"/>
<polygon points="64.2,463.04 66.69,467.5 61.71,467.5" fill="#1010ee" stroke="#1010ee" stroke-width="0.4"/>
<polygon points="70.9,446.26 73.39,450.72 68.41,450.72" fill="#1010ee" stroke="#1010ee" stroke-width="0.4"/>
<polygon points="77.6,442.69 80.09,447.15 75.11,447.15" fill="#1010ee" stroke="#1010ee" stroke-width="0.4"/>
<polygon points="84.3,427.64 86.79,432.11 81.81,432.11" fill="#1010ee" stroke="#1010ee" stroke-width="0.4"/>
<polygon points="91,425.35 93.49,429.81 88.51,429.81" fill="#1010ee" stroke="#1010ee" stroke-width="0.4"/>
<polygon points="97.7,411.07 100.19,415.53 95.21,415.53" fill="#1010ee" stroke="#1010ee" stroke-width="0.4"/>
<polygon points="104.4,417.95 106.89,422.42 101.91,422.42" fill="#1010ee" stroke="#1010ee" stroke-width="0.4"/>
<polygon points="111.1,427.13 113.59,431.6 108.61,431.6" fill="#1010ee" stroke="#1010ee" stroke-width="0.4"/>
<polygon points="117.8,411.83 120.29,416.3 115.31,416.3" fill="#1010ee" stroke="#1010ee" stroke-width="0.4"/>
<polygon points="124.5,415.66 126.99,420.12 122.01,420.12" fill="#1010ee" stroke="#1010ee" stroke-width="0.4"/>
<polygon points="131.2,431.21 133.69,435.68 128.71,435.68" fill="#1010ee" stroke="#1010ee" stroke-width="0.4"/>
<polygon points="137.9,410.05 140.39,414.51 135.41,414.51" fill="#1010ee" stroke="#1010ee" stroke-width="0.4"/>
<polygon points="144.6,407.25 147.09,411.71 142.11,411.71" fill="#1010ee" stroke="#1010ee" stroke-width="0.4"/>
<polygon points="151.3,406.99 153.79,411.45 148.81,411.45" fill="#1010ee" stroke="#1010ee" stroke-width="0.4"/>
<polygon points="158,406.48 160.49,410.94 155.51,410.94" fill="#1010ee" stroke="#1010ee" stroke-width="0.4"/>
<polygon points="164.7,437.59 167.19,442.05 162.21,442.05" fill="#1010ee" stroke="#1010ee" stroke-width="0.4"/>
<polygon points="171.4,406.99 173.89,411.45 168.91,411.45" fill="#1010ee" stroke="#1010ee" stroke-width="0.4"/>
<polygon points="178.1,404.19 180.59,408.65 175.61,408.65" fill="#1010ee" stroke="#1010ee" stroke-width="0.4"/>
<polygon points="184.8,402.4 187.29,406.86 182.31,406.86" fill="#1010ee" stroke="#1010ee" stroke-width="0.4"/>
<polygon points="191.5,400.36 193.99,404.82 189.01,404.82" fill="#1010ee" stroke="#1010ee" stroke-width="0.4"/>
<polygon points="198.2,431.98 200.69,436.44 195.71,436.44" fill="#1010ee" stroke="#1010ee" stroke-width="0.4"/>
<polygon points="204.9,404.69 207.39,409.16 202.41,409.16" fill="#1010ee" stroke="#1010ee" stroke-width="0.4"/>
<polygon points="211.6,402.14 214.09,406.61 209.11,406.61" fill="#1010ee" stroke="#1010ee" stroke-width="0.4"/>
<polygon points="218.3,401.38 220.79,405.84 215.81,405.84" fill="#1010ee" stroke="#1010ee" stroke-width="0.4"/>
<polygon points="225,401.38 227.49,405.84 222.51,405.84" fill="#1010ee" stroke="#1010ee" stroke-width="0.4"/>
<polygon points="231.7,437.59 234.19,442.05 229.21,442.05" fill="#1010ee" stroke="#1010ee" stroke-width="0.4"/>
<polygon points="238.4,403.68 240.89,408.14 235.91,408.14" fill="#1010ee" stroke="#1010ee" stroke-width="0.4"/>
<polygon points="245.1,400.62 247.59,405.08 242.61,405.08" fill="#1010ee" stroke="#1010ee" stroke-width="0.4"/>
<polygon points="251.8,399.59 254.29,404.06 249.31,404.06" fill="#1010ee" stroke="#1010ee" stroke-width="0.4"/>
<polygon points="258.5,398.57 260.99,403.04 256.01,403.04" fill="#1010ee" stroke="#1010ee" stroke-width="0.4"/>
<polygon points="265.2,323.09 267.69,327.56 262.71,327.56" fill="#1010ee" stroke="#1010ee" stroke-width="0.4"/>
<polygon points="271.9,410.81 274.39,415.28 269.41,415.28" fill="#1010ee" stroke="#1010ee" stroke-width="0.4"/>
<polygon points="278.6,409.8 281.09,414.26 276.11,414.26" fill="#1010ee" stroke="#1010ee" stroke-width="0.4"/>
<polygon points="285.3,409.8 287.79,414.26 282.81,414.26" fill="#1010ee" stroke="#1010ee" stroke-width="0.4"/>
<polygon points="292,409.8 294.49,414.26 289.51,414.26" fill="#1010ee" stroke="#1010ee" stroke-width="0.4"/>
</g>
<path d="M57.5,299.2 H299.2 V493.1 H57.5 Z" fill="none" stroke="#141414" stroke-width="1.05"/>
<rect x="54.5" y="453.5" width="6" height="3.2" fill="#fff"/>
<line x1="53" y1="455.8" x2="62" y2="452.2" stroke="#141414" stroke-width="1" />
<line x1="53" y1="458.6" x2="62" y2="455" stroke="#141414" stroke-width="1" />
<rect x="296.2" y="453.5" width="6" height="3.2" fill="#fff"/>
<line x1="294.7" y1="455.8" x2="303.7" y2="452.2" stroke="#141414" stroke-width="1" />
<line x1="294.7" y1="458.6" x2="303.7" y2="455" stroke="#141414" stroke-width="1" />
<line x1="57.5" y1="493.1" x2="57.5" y2="488.6" stroke="#141414" stroke-width="1.1" />
<text x="57.5" y="509.3" font-size="15" text-anchor="middle" fill="#111" >0</text>
<line x1="91" y1="493.1" x2="91" y2="488.6" stroke="#141414" stroke-width="1.1" />
<text x="91" y="509.3" font-size="15" text-anchor="middle" fill="#111" >5</text>
<line x1="124.5" y1="493.1" x2="124.5" y2="488.6" stroke="#141414" stroke-width="1.1" />
<text x="124.5" y="509.3" font-size="15" text-anchor="middle" fill="#111" >10</text>
<line x1="158" y1="493.1" x2="158" y2="488.6" stroke="#141414" stroke-width="1.1" />
<text x="158" y="509.3" font-size="15" text-anchor="middle" fill="#111" >15</text>
<line x1="191.5" y1="493.1" x2="191.5" y2="488.6" stroke="#141414" stroke-width="1.1" />
<text x="191.5" y="509.3" font-size="15" text-anchor="middle" fill="#111" >20</text>
<line x1="225" y1="493.1" x2="225" y2="488.6" stroke="#141414" stroke-width="1.1" />
<text x="225" y="509.3" font-size="15" text-anchor="middle" fill="#111" >25</text>
<line x1="258.5" y1="493.1" x2="258.5" y2="488.6" stroke="#141414" stroke-width="1.1" />
<text x="258.5" y="509.3" font-size="15" text-anchor="middle" fill="#111" >30</text>
<line x1="292" y1="493.1" x2="292" y2="488.6" stroke="#141414" stroke-width="1.1" />
<text x="292" y="509.3" font-size="15" text-anchor="middle" fill="#111" >35</text>
<line x1="74.25" y1="493.1" x2="74.25" y2="490.6" stroke="#141414" stroke-width="1.1" />
<line x1="107.75" y1="493.1" x2="107.75" y2="490.6" stroke="#141414" stroke-width="1.1" />
<line x1="141.25" y1="493.1" x2="141.25" y2="490.6" stroke="#141414" stroke-width="1.1" />
<line x1="174.75" y1="493.1" x2="174.75" y2="490.6" stroke="#141414" stroke-width="1.1" />
<line x1="208.25" y1="493.1" x2="208.25" y2="490.6" stroke="#141414" stroke-width="1.1" />
<line x1="241.75" y1="493.1" x2="241.75" y2="490.6" stroke="#141414" stroke-width="1.1" />
<line x1="275.25" y1="493.1" x2="275.25" y2="490.6" stroke="#141414" stroke-width="1.1" />
<line x1="57.5" y1="299.2" x2="62" y2="299.2" stroke="#141414" stroke-width="1.1" />
<text x="53.1" y="303.4" font-size="15" text-anchor="end" fill="#111" >1.4</text>
<line x1="57.5" y1="350.2" x2="62" y2="350.2" stroke="#141414" stroke-width="1.1" />
<text x="53.1" y="354.4" font-size="15" text-anchor="end" fill="#111" >1.2</text>
<line x1="57.5" y1="401.2" x2="62" y2="401.2" stroke="#141414" stroke-width="1.1" />
<text x="53.1" y="405.4" font-size="15" text-anchor="end" fill="#111" >1.0</text>
<line x1="57.5" y1="452.2" x2="62" y2="452.2" stroke="#141414" stroke-width="1.1" />
<text x="53.1" y="456.4" font-size="15" text-anchor="end" fill="#111" >0.8</text>
<line x1="57.5" y1="324.7" x2="60" y2="324.7" stroke="#141414" stroke-width="1.1" />
<line x1="57.5" y1="375.7" x2="60" y2="375.7" stroke="#141414" stroke-width="1.1" />
<line x1="57.5" y1="426.7" x2="60" y2="426.7" stroke="#141414" stroke-width="1.1" />
<line x1="57.5" y1="465.1" x2="62" y2="465.1" stroke="#141414" stroke-width="1.1" />
<text x="53.1" y="469.3" font-size="15" text-anchor="end" fill="#111" >0.3</text>
<line x1="57.5" y1="493.3" x2="62" y2="493.3" stroke="#141414" stroke-width="1.1" />
<text x="53.1" y="497.5" font-size="15" text-anchor="end" fill="#111" >0.0</text>
<line x1="57.5" y1="479.2" x2="60" y2="479.2" stroke="#141414" stroke-width="1.1" />
<text transform="translate(18.3,281.1) scale(1.08,1)" font-size="18.4" fill="#111">c</text>
<text x="129.3" y="532" font-size="15.2" text-anchor="start" fill="#111" >Cycle Number</text>
<text transform="translate(24,475.4) rotate(-90)" font-size="15.1" fill="#111">Coulombic Efficiency</text>
<text x="79.5" y="387" font-size="9.3" text-anchor="start" fill="#111" >50 mA/g</text>
<text x="136" y="387" font-size="9.3" text-anchor="start" fill="#111" >100</text>
<text x="170" y="387" font-size="9.3" text-anchor="start" fill="#111" >200</text>
<text x="204" y="387" font-size="9.3" text-anchor="start" fill="#111" >500</text>
<text x="231.5" y="387" font-size="9.3" text-anchor="start" fill="#111" >1000</text>
<text x="276" y="387" font-size="9.3" text-anchor="start" fill="#111" >50</text>
<line x1="70.3" y1="310" x2="96.7" y2="310" stroke="#555" stroke-width="1" />
<rect x="81.7" y="308.4" width="3.2" height="3.2" fill="#111" stroke="#111" stroke-width="0.4"/>
<text x="99.5" y="313.8" font-size="11.8" text-anchor="start" fill="#111" >GNF-1050C</text>
<line x1="70.3" y1="324.5" x2="96.7" y2="324.5" stroke="#e33" stroke-width="1" />
<circle cx="83.3" cy="324.5" r="1.75" fill="#d81818" stroke="#d81818" stroke-width="0.4"/>
<text x="99.5" y="328.3" font-size="11.8" text-anchor="start" fill="#111" >GNF-1050C-H</text>
<line x1="70.3" y1="339" x2="96.7" y2="339" stroke="#55e" stroke-width="1" />
<polygon points="83.3,336.81 85.38,340.53 81.22,340.53" fill="#1010ee" stroke="#1010ee" stroke-width="0.4"/>
<text x="99.5" y="342.8" font-size="11.8" text-anchor="start" fill="#111" >GNF-1600C</text>
<path d="M426.0,300.5 H667.5 V494.8 H426.0 Z" fill="none" stroke="#141414" stroke-width="1.05"/>
<line x1="426.2" y1="494.8" x2="426.2" y2="490.3" stroke="#141414" stroke-width="1.1" />
<text x="426.2" y="512.2" font-size="16" text-anchor="middle" fill="#111" >0</text>
<line x1="486.45" y1="494.8" x2="486.45" y2="490.3" stroke="#141414" stroke-width="1.1" />
<text x="486.45" y="512.2" font-size="16" text-anchor="middle" fill="#111" >500</text>
<line x1="546.7" y1="494.8" x2="546.7" y2="490.3" stroke="#141414" stroke-width="1.1" />
<text x="546.7" y="512.2" font-size="16" text-anchor="middle" fill="#111" >1000</text>
<line x1="606.95" y1="494.8" x2="606.95" y2="490.3" stroke="#141414" stroke-width="1.1" />
<text x="606.95" y="512.2" font-size="16" text-anchor="middle" fill="#111" >1500</text>
<line x1="667.2" y1="494.8" x2="667.2" y2="490.3" stroke="#141414" stroke-width="1.1" />
<text x="667.2" y="512.2" font-size="16" text-anchor="middle" fill="#111" >2000</text>
<line x1="456.32" y1="494.8" x2="456.32" y2="492.3" stroke="#141414" stroke-width="1.1" />
<line x1="516.58" y1="494.8" x2="516.58" y2="492.3" stroke="#141414" stroke-width="1.1" />
<line x1="576.83" y1="494.8" x2="576.83" y2="492.3" stroke="#141414" stroke-width="1.1" />
<line x1="637.08" y1="494.8" x2="637.08" y2="492.3" stroke="#141414" stroke-width="1.1" />
<line x1="426" y1="494.8" x2="430.5" y2="494.8" stroke="#141414" stroke-width="1.1" />
<text x="421.6" y="499.4" font-size="16" text-anchor="end" fill="#111" >0</text>
<line x1="426" y1="442.96" x2="430.5" y2="442.96" stroke="#141414" stroke-width="1.1" />
<text x="421.6" y="447.56" font-size="16" text-anchor="end" fill="#111" >400</text>
<line x1="426" y1="391.12" x2="430.5" y2="391.12" stroke="#141414" stroke-width="1.1" />
<text x="421.6" y="395.72" font-size="16" text-anchor="end" fill="#111" >800</text>
<line x1="426" y1="339.28" x2="430.5" y2="339.28" stroke="#141414" stroke-width="1.1" />
<text x="421.6" y="343.88" font-size="16" text-anchor="end" fill="#111" >1200</text>
<line x1="426" y1="468.88" x2="428.5" y2="468.88" stroke="#141414" stroke-width="1.1" />
<line x1="426" y1="417.04" x2="428.5" y2="417.04" stroke="#141414" stroke-width="1.1" />
<line x1="426" y1="365.2" x2="428.5" y2="365.2" stroke="#141414" stroke-width="1.1" />
<line x1="426" y1="313.36" x2="428.5" y2="313.36" stroke="#141414" stroke-width="1.1" />
<text transform="translate(371.6,280.8) scale(1.1,1)" font-size="18.5" fill="#111">d</text>
<g clip-path="url(#clipD)">
<rect x="426.51" y="492.2" width="4.2" height="4.2" fill="#000" stroke="#000" stroke-width="0"/>
<rect x="428.06" y="490.95" width="4.2" height="4.2" fill="#000" stroke="#000" stroke-width="0"/>
<rect x="429.71" y="489.83" width="4.2" height="4.2" fill="#000" stroke="#000" stroke-width="0"/>
<rect x="431.14" y="488.43" width="4.2" height="4.2" fill="#000" stroke="#000" stroke-width="0"/>
<rect x="432.61" y="487.07" width="4.2" height="4.2" fill="#000" stroke="#000" stroke-width="0"/>
<rect x="434.11" y="485.75" width="4.2" height="4.2" fill="#000" stroke="#000" stroke-width="0"/>
<rect x="435.7" y="484.55" width="4.2" height="4.2" fill="#000" stroke="#000" stroke-width="0"/>
<rect x="437.34" y="483.4" width="4.2" height="4.2" fill="#000" stroke="#000" stroke-width="0"/>
<rect x="439.01" y="482.29" width="4.2" height="4.2" fill="#000" stroke="#000" stroke-width="0"/>
<rect x="440.76" y="481.35" width="4.2" height="4.2" fill="#000" stroke="#000" stroke-width="0"/>
<rect x="442.62" y="480.61" width="4.2" height="4.2" fill="#000" stroke="#000" stroke-width="0"/>
<rect x="444.47" y="479.87" width="4.2" height="4.2" fill="#000" stroke="#000" stroke-width="0"/>
<rect x="446.38" y="479.28" width="4.2" height="4.2" fill="#000" stroke="#000" stroke-width="0"/>
<rect x="448.31" y="478.76" width="4.2" height="4.2" fill="#000" stroke="#000" stroke-width="0"/>
<rect x="450.26" y="478.31" width="4.2" height="4.2" fill="#000" stroke="#000" stroke-width="0"/>
<rect x="452.23" y="477.96" width="4.2" height="4.2" fill="#000" stroke="#000" stroke-width="0"/>
<rect x="454.2" y="477.63" width="4.2" height="4.2" fill="#000" stroke="#000" stroke-width="0"/>
<rect x="456.19" y="477.38" width="4.2" height="4.2" fill="#000" stroke="#000" stroke-width="0"/>
<rect x="458.17" y="477.13" width="4.2" height="4.2" fill="#000" stroke="#000" stroke-width="0"/>
<rect x="460.16" y="476.98" width="4.2" height="4.2" fill="#000" stroke="#000" stroke-width="0"/>
<rect x="462.16" y="476.88" width="4.2" height="4.2" fill="#000" stroke="#000" stroke-width="0"/>
<rect x="464.16" y="476.79" width="4.2" height="4.2" fill="#000" stroke="#000" stroke-width="0"/>
<rect x="466.16" y="476.71" width="4.2" height="4.2" fill="#000" stroke="#000" stroke-width="0"/>
<rect x="468.16" y="476.64" width="4.2" height="4.2" fill="#000" stroke="#000" stroke-width="0"/>
<rect x="470.16" y="476.57" width="4.2" height="4.2" fill="#000" stroke="#000" stroke-width="0"/>
<rect x="472.15" y="476.45" width="4.2" height="4.2" fill="#000" stroke="#000" stroke-width="0"/>
<rect x="474.13" y="476.17" width="4.2" height="4.2" fill="#000" stroke="#000" stroke-width="0"/>
<rect x="476.11" y="475.89" width="4.2" height="4.2" fill="#000" stroke="#000" stroke-width="0"/>
<rect x="478.06" y="475.47" width="4.2" height="4.2" fill="#000" stroke="#000" stroke-width="0"/>
<rect x="479.98" y="474.92" width="4.2" height="4.2" fill="#000" stroke="#000" stroke-width="0"/>
<rect x="481.84" y="474.19" width="4.2" height="4.2" fill="#000" stroke="#000" stroke-width="0"/>
<rect x="483.65" y="473.33" width="4.2" height="4.2" fill="#000" stroke="#000" stroke-width="0"/>
<rect x="485.38" y="472.35" width="4.2" height="4.2" fill="#000" stroke="#000" stroke-width="0"/>
<rect x="487.04" y="471.23" width="4.2" height="4.2" fill="#000" stroke="#000" stroke-width="0"/>
<rect x="488.69" y="470.11" width="4.2" height="4.2" fill="#000" stroke="#000" stroke-width="0"/>
<rect x="490.33" y="468.96" width="4.2" height="4.2" fill="#000" stroke="#000" stroke-width="0"/>
<rect x="491.81" y="467.61" width="4.2" height="4.2" fill="#000" stroke="#000" stroke-width="0"/>
<rect x="493.28" y="466.26" width="4.2" height="4.2" fill="#000" stroke="#000" stroke-width="0"/>
<rect x="494.76" y="464.92" width="4.2" height="4.2" fill="#000" stroke="#000" stroke-width="0"/>
<rect x="496.19" y="463.52" width="4.2" height="4.2" fill="#000" stroke="#000" stroke-width="0"/>
<rect x="498.57" y="461.23" width="4.2" height="4.2" fill="#000" stroke="#000" stroke-width="0"/>
<rect x="501.7" y="458.5" width="4.2" height="4.2" fill="#000" stroke="#000" stroke-width="0"/>
<rect x="505.92" y="454.88" width="4.2" height="4.2" fill="#000" stroke="#000" stroke-width="0"/>
<rect x="510.14" y="449.56" width="4.2" height="4.2" fill="#000" stroke="#000" stroke-width="0"/>
<rect x="513.87" y="443.86" width="4.2" height="4.2" fill="#000" stroke="#000" stroke-width="0"/>
<rect x="517.73" y="437.9" width="4.2" height="4.2" fill="#000" stroke="#000" stroke-width="0"/>
<rect x="524.12" y="430.9" width="4.2" height="4.2" fill="#000" stroke="#000" stroke-width="0"/>
<rect x="530.74" y="421.96" width="4.2" height="4.2" fill="#000" stroke="#000" stroke-width="0"/>
<rect x="537.25" y="410.55" width="4.2" height="4.2" fill="#000" stroke="#000" stroke-width="0"/>
<rect x="544.36" y="398.24" width="4.2" height="4.2" fill="#000" stroke="#000" stroke-width="0"/>
<rect x="553.64" y="384.89" width="4.2" height="4.2" fill="#000" stroke="#000" stroke-width="0"/>
<rect x="564.84" y="368.69" width="4.2" height="4.2" fill="#000" stroke="#000" stroke-width="0"/>
<rect x="575.45" y="348.73" width="4.2" height="4.2" fill="#000" stroke="#000" stroke-width="0"/>
<rect x="590.75" y="325.4" width="4.2" height="4.2" fill="#000" stroke="#000" stroke-width="0"/>
<rect x="605.93" y="300.65" width="4.2" height="4.2" fill="#000" stroke="#000" stroke-width="0"/>
<circle cx="431.62" cy="493.26" r="2.25" fill="#d81010" stroke="#d81010" stroke-width="0"/>
<circle cx="432.49" cy="491.69" r="2.25" fill="#d81010" stroke="#d81010" stroke-width="0"/>
<circle cx="433.77" cy="490.42" r="2.25" fill="#d81010" stroke="#d81010" stroke-width="0"/>
<circle cx="435.35" cy="489.62" r="2.25" fill="#d81010" stroke="#d81010" stroke-width="0"/>
<circle cx="437.03" cy="489.01" r="2.25" fill="#d81010" stroke="#d81010" stroke-width="0"/>
<circle cx="438.79" cy="489.36" r="2.25" fill="#d81010" stroke="#d81010" stroke-width="0"/>
<circle cx="440.51" cy="489.9" r="2.25" fill="#d81010" stroke="#d81010" stroke-width="0"/>
<circle cx="442.29" cy="490.11" r="2.25" fill="#d81010" stroke="#d81010" stroke-width="0"/>
<circle cx="444.08" cy="490.23" r="2.25" fill="#d81010" stroke="#d81010" stroke-width="0"/>
<circle cx="445.86" cy="490.1" r="2.25" fill="#d81010" stroke="#d81010" stroke-width="0"/>
<circle cx="447.63" cy="489.76" r="2.25" fill="#d81010" stroke="#d81010" stroke-width="0"/>
<circle cx="449.36" cy="489.3" r="2.25" fill="#d81010" stroke="#d81010" stroke-width="0"/>
<circle cx="450.93" cy="488.43" r="2.25" fill="#d81010" stroke="#d81010" stroke-width="0"/>
<circle cx="452.02" cy="487" r="2.25" fill="#d81010" stroke="#d81010" stroke-width="0"/>
<circle cx="453.2" cy="485.64" r="2.25" fill="#d81010" stroke="#d81010" stroke-width="0"/>
<circle cx="454.24" cy="484.18" r="2.25" fill="#d81010" stroke="#d81010" stroke-width="0"/>
<circle cx="455.26" cy="482.69" r="2.25" fill="#d81010" stroke="#d81010" stroke-width="0"/>
<circle cx="456.37" cy="481.27" r="2.25" fill="#d81010" stroke="#d81010" stroke-width="0"/>
<circle cx="457.29" cy="479.73" r="2.25" fill="#d81010" stroke="#d81010" stroke-width="0"/>
<circle cx="457.87" cy="478.03" r="2.25" fill="#d81010" stroke="#d81010" stroke-width="0"/>
<circle cx="458.39" cy="476.31" r="2.25" fill="#d81010" stroke="#d81010" stroke-width="0"/>
<circle cx="458.88" cy="474.58" r="2.25" fill="#d81010" stroke="#d81010" stroke-width="0"/>
<circle cx="459.94" cy="470.71" r="2.25" fill="#d81010" stroke="#d81010" stroke-width="0"/>
<circle cx="461.63" cy="466.82" r="2.25" fill="#d81010" stroke="#d81010" stroke-width="0"/>
<circle cx="463.07" cy="462.55" r="2.25" fill="#d81010" stroke="#d81010" stroke-width="0"/>
<circle cx="464.88" cy="456.72" r="2.25" fill="#d81010" stroke="#d81010" stroke-width="0"/>
<circle cx="466.93" cy="449.33" r="2.25" fill="#d81010" stroke="#d81010" stroke-width="0"/>
<circle cx="468.98" cy="439.87" r="2.25" fill="#d81010" stroke="#d81010" stroke-width="0"/>
<circle cx="470.54" cy="428.46" r="2.25" fill="#d81010" stroke="#d81010" stroke-width="0"/>
<circle cx="472.83" cy="415.24" r="2.25" fill="#d81010" stroke="#d81010" stroke-width="0"/>
<circle cx="476.93" cy="396.97" r="2.25" fill="#d81010" stroke="#d81010" stroke-width="0"/>
<circle cx="479.82" cy="374.68" r="2.25" fill="#d81010" stroke="#d81010" stroke-width="0"/>
<circle cx="483.44" cy="347.46" r="2.25" fill="#d81010" stroke="#d81010" stroke-width="0"/>
<circle cx="487.65" cy="313.9" r="2.25" fill="#d81010" stroke="#d81010" stroke-width="0"/>
<polygon points="426.44,491.43 429.17,496.31 423.71,496.31" fill="#0000ee" stroke="#0000ee" stroke-width="0"/>
<polygon points="427.19,489.57 429.92,494.46 424.46,494.46" fill="#0000ee" stroke="#0000ee" stroke-width="0"/>
<polygon points="428.33,487.93 431.07,492.82 425.6,492.82" fill="#0000ee" stroke="#0000ee" stroke-width="0"/>
<polygon points="429.87,486.69 432.6,491.58 427.14,491.58" fill="#0000ee" stroke="#0000ee" stroke-width="0"/>
<polygon points="431.53,485.57 434.26,490.46 428.8,490.46" fill="#0000ee" stroke="#0000ee" stroke-width="0"/>
<polygon points="433.04,484.26 435.77,489.14 430.3,489.14" fill="#0000ee" stroke="#0000ee" stroke-width="0"/>
<polygon points="434.54,482.94 437.27,487.83 431.81,487.83" fill="#0000ee" stroke="#0000ee" stroke-width="0"/>
<polygon points="436.04,481.62 438.77,486.51 433.31,486.51" fill="#0000ee" stroke="#0000ee" stroke-width="0"/>
<polygon points="437.62,480.4 440.35,485.29 434.89,485.29" fill="#0000ee" stroke="#0000ee" stroke-width="0"/>
<polygon points="439.26,479.25 441.99,484.14 436.53,484.14" fill="#0000ee" stroke="#0000ee" stroke-width="0"/>
<polygon points="440.92,478.14 443.65,483.02 438.19,483.02" fill="#0000ee" stroke="#0000ee" stroke-width="0"/>
<polygon points="442.66,477.16 445.39,482.05 439.92,482.05" fill="#0000ee" stroke="#0000ee" stroke-width="0"/>
<polygon points="444.51,476.42 447.24,481.3 441.78,481.3" fill="#0000ee" stroke="#0000ee" stroke-width="0"/>
<polygon points="446.37,475.67 449.1,480.56 443.64,480.56" fill="#0000ee" stroke="#0000ee" stroke-width="0"/>
<polygon points="448.26,475.03 450.99,479.92 445.53,479.92" fill="#0000ee" stroke="#0000ee" stroke-width="0"/>
<polygon points="450.18,474.46 452.91,479.34 447.45,479.34" fill="#0000ee" stroke="#0000ee" stroke-width="0"/>
<polygon points="452.11,473.93 454.84,478.82 449.37,478.82" fill="#0000ee" stroke="#0000ee" stroke-width="0"/>
<polygon points="454.06,473.52 456.79,478.41 451.33,478.41" fill="#0000ee" stroke="#0000ee" stroke-width="0"/>
<polygon points="456.02,473.14 458.76,478.03 453.29,478.03" fill="#0000ee" stroke="#0000ee" stroke-width="0"/>
<polygon points="458.02,473.02 460.75,477.91 455.29,477.91" fill="#0000ee" stroke="#0000ee" stroke-width="0"/>
<polygon points="460.02,472.9 462.75,477.79 457.29,477.79" fill="#0000ee" stroke="#0000ee" stroke-width="0"/>
<polygon points="462.01,472.78 464.75,477.67 459.28,477.67" fill="#0000ee" stroke="#0000ee" stroke-width="0"/>
<polygon points="464.01,472.87 466.74,477.76 461.28,477.76" fill="#0000ee" stroke="#0000ee" stroke-width="0"/>
<polygon points="466.01,472.99 468.74,477.88 463.27,477.88" fill="#0000ee" stroke="#0000ee" stroke-width="0"/>
<polygon points="467.99,473.23 470.72,478.12 465.26,478.12" fill="#0000ee" stroke="#0000ee" stroke-width="0"/>
<polygon points="469.97,473.5 472.7,478.39 467.24,478.39" fill="#0000ee" stroke="#0000ee" stroke-width="0"/>
<polygon points="471.95,473.77 474.69,478.66 469.22,478.66" fill="#0000ee" stroke="#0000ee" stroke-width="0"/>
<polygon points="473.94,474.04 476.67,478.93 471.2,478.93" fill="#0000ee" stroke="#0000ee" stroke-width="0"/>
<polygon points="475.89,474.48 478.62,479.36 473.16,479.36" fill="#0000ee" stroke="#0000ee" stroke-width="0"/>
<polygon points="477.84,474.91 480.57,479.8 475.11,479.8" fill="#0000ee" stroke="#0000ee" stroke-width="0"/>
<polygon points="479.8,475.32 482.53,480.21 477.07,480.21" fill="#0000ee" stroke="#0000ee" stroke-width="0"/>
<polygon points="481.77,475.64 484.5,480.52 479.04,480.52" fill="#0000ee" stroke="#0000ee" stroke-width="0"/>
<polygon points="483.75,475.96 486.48,480.84 481.02,480.84" fill="#0000ee" stroke="#0000ee" stroke-width="0"/>
<polygon points="485.7,475.63 488.43,480.51 482.97,480.51" fill="#0000ee" stroke="#0000ee" stroke-width="0"/>
<polygon points="487.65,475.18 490.38,480.07 484.92,480.07" fill="#0000ee" stroke="#0000ee" stroke-width="0"/>
<polygon points="489.49,474.45 492.22,479.34 486.76,479.34" fill="#0000ee" stroke="#0000ee" stroke-width="0"/>
<polygon points="491.21,473.44 493.94,478.33 488.48,478.33" fill="#0000ee" stroke="#0000ee" stroke-width="0"/>
<polygon points="492.93,472.42 495.67,477.31 490.2,477.31" fill="#0000ee" stroke="#0000ee" stroke-width="0"/>
<polygon points="495.13,471.08 497.86,475.97 492.39,475.97" fill="#0000ee" stroke="#0000ee" stroke-width="0"/>
<polygon points="497.42,469.52 500.15,474.41 494.68,474.41" fill="#0000ee" stroke="#0000ee" stroke-width="0"/>
<polygon points="499.7,467.97 502.44,472.85 496.97,472.85" fill="#0000ee" stroke="#0000ee" stroke-width="0"/>
<polygon points="501.63,466.28 504.36,471.17 498.9,471.17" fill="#0000ee" stroke="#0000ee" stroke-width="0"/>
<polygon points="503.44,464.6 506.17,469.49 500.71,469.49" fill="#0000ee" stroke="#0000ee" stroke-width="0"/>
<polygon points="506.09,461.88 508.82,466.76 503.36,466.76" fill="#0000ee" stroke="#0000ee" stroke-width="0"/>
<polygon points="508.98,458.64 511.71,463.52 506.25,463.52" fill="#0000ee" stroke="#0000ee" stroke-width="0"/>
<polygon points="511.27,455.27 514,460.15 508.54,460.15" fill="#0000ee" stroke="#0000ee" stroke-width="0"/>
<polygon points="515.97,451.12 518.7,456.01 513.24,456.01" fill="#0000ee" stroke="#0000ee" stroke-width="0"/>
<polygon points="520.19,445.68 522.92,450.56 517.46,450.56" fill="#0000ee" stroke="#0000ee" stroke-width="0"/>
<polygon points="525.49,438.94 528.22,443.82 522.76,443.82" fill="#0000ee" stroke="#0000ee" stroke-width="0"/>
<polygon points="530.43,432.07 533.16,436.96 527.7,436.96" fill="#0000ee" stroke="#0000ee" stroke-width="0"/>
<polygon points="536.94,425.98 539.67,430.86 534.21,430.86" fill="#0000ee" stroke="#0000ee" stroke-width="0"/>
<polygon points="544.29,417.16 547.02,422.05 541.56,422.05" fill="#0000ee" stroke="#0000ee" stroke-width="0"/>
<polygon points="552.73,405.89 555.46,410.78 549.99,410.78" fill="#0000ee" stroke="#0000ee" stroke-width="0"/>
<polygon points="559.71,393.19 562.45,398.08 556.98,398.08" fill="#0000ee" stroke="#0000ee" stroke-width="0"/>
<polygon points="569.6,382.17 572.33,387.06 566.86,387.06" fill="#0000ee" stroke="#0000ee" stroke-width="0"/>
<polygon points="582.13,367.4 584.86,372.29 579.4,372.29" fill="#0000ee" stroke="#0000ee" stroke-width="0"/>
<polygon points="595.26,348.87 597.99,353.75 592.53,353.75" fill="#0000ee" stroke="#0000ee" stroke-width="0"/>
<polygon points="606.71,328.91 609.44,333.79 603.98,333.79" fill="#0000ee" stroke="#0000ee" stroke-width="0"/>
<polygon points="622.01,304.67 624.74,309.56 619.28,309.56" fill="#0000ee" stroke="#0000ee" stroke-width="0"/>
</g>
<text x="487.7" y="410.7" font-size="12.7" text-anchor="start" fill="#111" >0.1 Hz</text>
<text x="497.5" y="490" font-size="12.6" text-anchor="start" fill="#111" >25 Hz</text>
<line x1="523.3" y1="399.8" x2="551.8" y2="388.9" stroke="#333" stroke-width="0.6" />
<polygon points="553.5,388.2 548.6,388.6 549.6,391" fill="#333"/>
<line x1="528.4" y1="407.4" x2="556.1" y2="399.8" stroke="#4444ee" stroke-width="0.6" />
<polygon points="558,399.3 553,399.2 553.8,401.7" fill="#4444ee"/>
<line x1="494.1" y1="414.4" x2="472.2" y2="445.5" stroke="#ee6666" stroke-width="0.5" />
<polygon points="471.3,446.8 474,445.1 472,443.7" fill="#e05050"/>
<line x1="490.4" y1="487.2" x2="453.1" y2="491.3" stroke="#ee8888" stroke-width="0.6" />
<line x1="496.2" y1="484.7" x2="486.7" y2="481.8" stroke="#8888ee" stroke-width="0.6" />
<text x="508.9" y="534" font-size="15.8" fill="#111" textLength="56.4" lengthAdjust="spacingAndGlyphs">Re (Z) (</text>
<text transform="translate(565.6,534) scale(1.17,1)" font-size="16" fill="#111" font-family="Liberation Serif, serif">Ω</text>
<text x="579" y="534" font-size="15.8" fill="#111">)</text>
<g transform="translate(377.1,448.6) rotate(-90)"><text x="0" y="0" font-size="15.8" fill="#111" textLength="59.3" lengthAdjust="spacingAndGlyphs">-Im (Z) (</text><text transform="translate(60.1,0) scale(1.08,1)" font-size="16" fill="#111" font-family="Liberation Serif, serif">Ω</text><text x="73" y="0" font-size="15.8" fill="#111">)</text></g>
<rect x="567.3" y="442.8" width="3.6" height="3.6" fill="#111" stroke="#111" stroke-width="0.4"/>
<text x="586.5" y="448.4" font-size="11.8" text-anchor="start" fill="#111" >GNF-1050C</text>
<circle cx="569.1" cy="459.4" r="1.8" fill="#d81818" stroke="#d81818" stroke-width="0.4"/>
<text x="586.5" y="463.2" font-size="11.8" text-anchor="start" fill="#111" >GNF-1050C-H</text>
<polygon points="569.1,471.95 571.24,475.78 566.96,475.78" fill="#1010ee" stroke="#1010ee" stroke-width="0.4"/>
<text x="586.5" y="478" font-size="11.8" text-anchor="start" fill="#111" >GNF-1600C</text>
</svg>
</body></html>
